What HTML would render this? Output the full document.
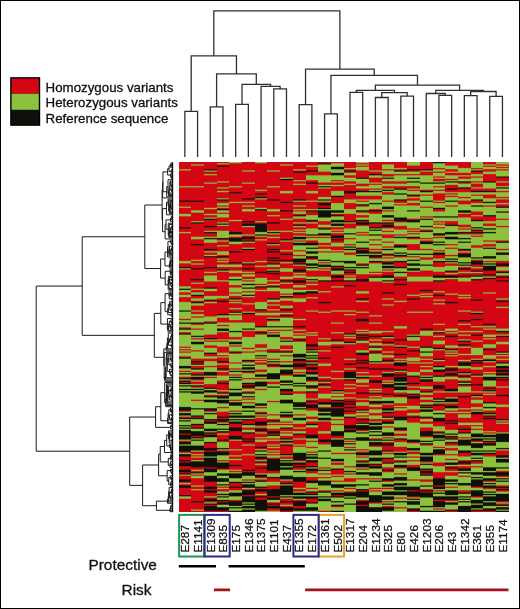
<!DOCTYPE html><html><head><meta charset="utf-8"><style>html,body{margin:0;padding:0;background:#fff;width:520px;height:609px;overflow:hidden}body{position:relative;font-family:"Liberation Sans",sans-serif}#hm div{position:absolute;top:162.30px;height:350.00px}</style></head><body>
<svg width="520" height="609" viewBox="0 0 520 609" style="position:absolute;left:0;top:0;will-change:transform">
<rect x="0.5" y="0.5" width="519" height="608" fill="#fff" stroke="#000" stroke-width="1"/>
<rect x="10.9" y="77.9" width="28.6" height="47.2" fill="#10100a" stroke="#000" stroke-width="1.4"/>
<rect x="11.6" y="78.6" width="27.2" height="15.2" fill="#d40614"/>
<rect x="11.6" y="93.8" width="27.2" height="16.0" fill="#8bc13c"/>
<g font-family="Liberation Sans, sans-serif" font-size="13.3" fill="#111" stroke="#111" stroke-width="0.3"><text x="45.6" y="92.4">Homozygous variants</text><text x="45.6" y="107.3">Heterozygous variants</text><text x="45.6" y="123.1">Reference sequence</text></g>
<path fill="none" stroke="#303030" stroke-width="1.3" d="M184.85 157.00V111.30H197.56V157.00M210.26 157.00V106.80H222.96V157.00M235.67 157.00V104.40H248.37V157.00M273.78 157.00V88.80H286.48V157.00M261.07 157.00V86.30H280.13V88.80M242.02 104.40V84.40H270.60V86.30M216.61 106.80V73.80H256.31V84.40M191.20 111.30V55.80H236.46V73.80M299.19 157.00V104.60H311.89V157.00M324.59 157.00V113.80H337.30V157.00M350.00 157.00V92.30H362.71V157.00M375.41 157.00V97.50H388.11V157.00M400.82 157.00V96.20H413.52V157.00M381.76 97.50V92.70H407.17V96.20M356.35 92.30V90.40H394.47V92.70M438.93 157.00V95.40H451.63V157.00M426.23 157.00V93.50H445.28V95.40M464.34 157.00V95.60H477.04V157.00M489.74 157.00V96.30H502.45V157.00M470.69 95.60V91.50H496.10V96.30M435.75 93.50V90.30H483.39V91.50M375.41 90.40V85.20H459.57V90.30M330.95 113.80V75.40H417.49V85.20M305.54 104.60V69.20H374.22V75.40M213.83 55.80V10.80H339.88V69.20"/>
<path fill="none" stroke="#1a1a1a" stroke-width="1.0" d="M173.00 165.32H171.77V166.52H173.00M173.00 164.11H171.55V165.92H171.77M173.00 162.90H171.13V165.02H171.55M171.13 163.96H170.66V167.73H173.00M173.00 168.94H172.06V170.14H173.00M172.06 169.54H171.47V171.35H173.00M171.47 170.45H171.18V172.56H173.00M170.66 165.85H169.05V171.50H171.18M173.00 176.18H171.98V177.39H173.00M171.98 176.78H171.36V178.59H173.00M173.00 174.97H171.00V177.69H171.36M173.00 173.77H170.69V176.33H171.00M169.05 168.67H167.66V175.05H170.69M173.00 183.42H172.30V184.63H173.00M172.30 184.02H171.91V185.83H173.00M171.91 184.93H171.44V187.04H173.00M173.00 182.21H170.87V185.99H171.44M173.00 181.01H170.25V184.10H170.87M173.00 189.46H172.23V190.66H173.00M172.23 190.06H171.58V191.87H173.00M173.00 188.25H171.06V190.96H171.58M170.25 182.55H169.89V189.61H171.06M169.89 186.08H169.28V193.08H173.00M169.28 189.58H168.93V194.28H173.00M168.93 191.93H168.49V195.49H173.00M173.00 179.80H167.99V193.71H168.49M167.99 186.75H166.70V196.70H173.00M167.66 171.86H162.95V191.73H166.70M162.95 181.79H162.61V197.90H173.00M173.00 205.14H171.86V206.35H173.00M173.00 208.77H171.94V209.97H173.00M173.00 207.56H171.31V209.37H171.94M171.86 205.75H170.92V208.46H171.31M173.00 203.94H170.70V207.11H170.92M173.00 202.73H170.43V205.52H170.70M170.43 204.13H170.05V211.18H173.00M173.00 201.52H169.89V207.65H170.05M169.89 204.59H169.73V212.39H173.00M169.73 208.49H169.26V213.59H173.00M173.00 200.32H168.68V211.04H169.26M173.00 199.11H168.07V205.68H168.68M168.07 202.39H166.48V214.80H173.00M173.00 217.21H172.29V218.42H173.00M173.00 216.01H171.80V217.82H172.29M171.80 216.91H171.22V219.63H173.00M173.00 220.83H172.00V222.04H173.00M171.22 218.27H170.49V221.44H172.00M173.00 226.87H172.30V228.08H173.00M173.00 225.66H171.91V227.47H172.30M171.91 226.57H171.29V229.28H173.00M173.00 230.49H171.94V231.70H173.00M171.94 231.09H171.54V232.90H173.00M171.54 232.00H171.16V234.11H173.00M171.29 227.93H170.41V233.05H171.16M170.41 230.49H169.85V235.32H173.00M173.00 224.46H169.31V232.90H169.85M169.31 228.68H169.07V236.52H173.00M169.07 232.60H168.91V237.73H173.00M173.00 223.25H168.26V235.17H168.91M170.49 219.85H165.96V229.21H168.26M165.96 224.53H165.12V238.94H173.00M166.48 208.60H162.57V231.73H165.12M162.61 189.85H162.10V220.17H162.57M173.00 242.56H172.30V243.77H173.00M172.30 243.16H171.87V244.97H173.00M173.00 241.35H171.22V244.07H171.87M173.00 240.14H170.35V242.71H171.22M173.00 247.39H171.82V248.59H173.00M173.00 249.80H172.00V251.01H173.00M171.82 247.99H171.33V250.40H172.00M171.33 249.20H170.77V252.21H173.00M170.77 250.71H170.22V253.42H173.00M170.22 252.06H169.68V254.63H173.00M173.00 246.18H169.45V253.35H169.68M169.45 249.76H168.90V255.83H173.00M170.35 241.43H167.93V252.80H168.90M167.93 247.11H167.60V257.04H173.00M173.00 261.87H172.19V263.08H173.00M173.00 260.66H171.92V262.47H172.19M173.00 259.46H171.61V261.57H171.92M171.61 260.51H171.03V264.28H173.00M171.03 262.40H170.60V265.49H173.00M173.00 258.25H170.28V263.94H170.60M170.28 261.10H169.86V266.70H173.00M169.86 263.90H169.36V267.90H173.00M167.60 252.08H164.99V265.90H169.36M173.00 271.52H171.78V272.73H173.00M171.78 272.13H171.33V273.94H173.00M173.00 270.32H171.10V273.03H171.33M171.10 271.67H170.57V275.14H173.00M173.00 269.11H170.07V273.41H170.57M173.00 279.97H172.11V281.18H173.00M173.00 278.77H171.52V280.58H172.11M173.00 284.80H172.26V286.01H173.00M172.26 285.40H171.60V287.21H173.00M173.00 283.59H170.94V286.31H171.60M173.00 282.39H170.41V284.95H170.94M171.52 279.67H169.76V283.67H170.41M173.00 277.56H169.47V281.67H169.76M169.47 279.61H168.99V288.42H173.00M173.00 276.35H168.37V284.02H168.99M168.37 280.18H168.19V289.63H173.00M170.07 271.26H165.20V284.91H168.19M164.99 258.99H160.60V278.08H165.20M173.00 294.46H172.04V295.66H173.00M173.00 293.25H171.63V295.06H172.04M171.63 294.15H171.12V296.87H173.00M173.00 292.04H170.44V295.51H171.12M173.00 299.28H171.99V300.49H173.00M173.00 298.08H171.66V299.89H171.99M170.44 293.78H169.28V298.98H171.66M173.00 290.83H169.04V296.38H169.28M173.00 304.11H172.02V305.32H173.00M172.02 304.71H171.40V306.52H173.00M173.00 302.90H170.76V305.62H171.40M173.00 307.73H172.27V308.94H173.00M172.27 308.33H171.61V310.14H173.00M171.61 309.24H171.22V311.35H173.00M170.76 304.26H169.92V310.30H171.22M173.00 301.70H169.46V307.28H169.92M169.46 304.49H168.34V312.56H173.00M173.00 316.18H172.28V317.39H173.00M173.00 314.97H171.71V316.78H172.28M173.00 313.77H171.09V315.88H171.71M168.34 308.52H167.74V314.82H171.09M169.04 293.61H165.08V311.67H167.74M173.00 321.01H172.08V322.21H173.00M172.08 321.61H171.50V323.42H173.00M173.00 319.80H170.91V322.52H171.50M173.00 325.83H171.77V327.04H173.00M171.77 326.44H171.50V328.25H173.00M171.50 327.34H170.75V329.46H173.00M173.00 324.63H170.30V328.40H170.75M170.91 321.16H169.35V326.51H170.30M169.35 323.84H168.70V330.66H173.00M168.70 327.25H167.93V331.87H173.00M173.00 318.59H167.42V329.56H167.93M165.08 302.64H160.80V324.08H167.42M173.00 335.49H172.30V336.70H173.00M172.30 336.09H172.16V337.90H173.00M173.00 334.28H171.54V337.00H172.16M171.54 335.64H170.92V339.11H173.00M170.92 337.38H170.55V340.32H173.00M173.00 341.52H171.90V342.73H173.00M170.55 338.85H169.53V342.13H171.90M173.00 345.14H171.96V346.35H173.00M171.96 345.75H171.65V347.56H173.00M173.00 343.94H171.24V346.65H171.65M169.53 340.49H168.52V345.30H171.24M173.00 333.08H168.29V342.89H168.52M168.29 337.98H167.41V348.77H173.00M167.41 343.37H166.89V349.97H173.00M166.89 346.67H166.27V351.18H173.00M173.00 358.42H172.01V359.63H173.00M173.00 360.83H171.98V362.04H173.00M172.01 359.02H171.19V361.44H171.98M173.00 357.21H170.61V360.23H171.19M173.00 365.66H172.30V366.87H173.00M173.00 364.46H171.89V366.27H172.30M171.89 365.36H171.41V368.08H173.00M173.00 363.25H170.80V366.72H171.41M170.61 358.72H168.89V364.98H170.80M173.00 356.01H168.29V361.85H168.89M173.00 371.70H172.13V372.90H173.00M173.00 370.49H171.64V372.30H172.13M173.00 374.11H171.97V375.32H173.00M171.97 374.71H171.59V376.52H173.00M171.64 371.39H170.30V375.62H171.59M173.00 369.28H169.55V373.51H170.30M168.29 358.93H167.32V371.39H169.55M173.00 354.80H167.01V365.16H167.32M173.00 353.59H166.49V359.98H167.01M166.49 356.79H166.15V377.73H173.00M166.15 367.26H165.50V378.94H173.00M165.50 373.10H165.19V380.14H173.00M165.19 376.62H164.87V381.35H173.00M173.00 352.39H164.21V378.99H164.87M166.27 348.93H163.80V365.69H164.21M173.00 388.59H171.90V389.80H173.00M171.90 389.20H171.53V391.01H173.00M173.00 387.39H171.08V390.10H171.53M171.08 388.74H170.68V392.21H173.00M173.00 394.63H171.82V395.83H173.00M171.82 395.23H171.42V397.04H173.00M171.42 396.14H171.25V398.25H173.00M173.00 393.42H170.87V397.19H171.25M173.00 399.46H171.90V400.66H173.00M170.87 395.31H169.65V400.06H171.90M170.68 390.48H168.89V397.68H169.65M173.00 386.18H168.57V394.08H168.89M168.57 390.13H167.94V401.87H173.00M173.00 384.97H167.53V396.00H167.94M167.53 390.49H167.18V403.08H173.00M167.18 396.78H166.96V404.28H173.00M173.00 383.77H166.43V400.53H166.96M166.43 392.15H166.08V405.49H173.00M166.08 398.82H165.75V406.70H173.00M173.00 382.56H164.70V402.76H165.75M173.00 409.11H171.94V410.32H173.00M171.94 409.71H171.58V411.52H173.00M171.58 410.62H171.25V412.73H173.00M173.00 407.90H170.51V411.67H171.25M173.00 415.14H171.97V416.35H173.00M173.00 413.94H171.58V415.75H171.97M173.00 418.77H171.81V419.97H173.00M173.00 417.56H171.44V419.37H171.81M171.44 418.46H170.97V421.18H173.00M171.58 414.84H169.58V419.82H170.97M170.51 409.79H168.79V417.33H169.58M168.79 413.56H168.10V422.39H173.00M168.10 417.97H167.68V423.59H173.00M164.70 392.66H160.80V420.78H167.68M173.00 426.01H171.83V427.21H173.00M173.00 424.80H171.35V426.61H171.83M173.00 428.42H171.97V429.63H173.00M171.35 425.71H170.60V429.02H171.97M173.00 436.87H171.95V438.08H173.00M173.00 435.66H171.27V437.47H171.95M173.00 434.46H170.92V436.57H171.27M173.00 433.25H170.72V435.51H170.92M173.00 439.28H171.89V440.49H173.00M171.89 439.89H171.64V441.70H173.00M170.72 434.38H169.70V440.79H171.64M173.00 432.04H169.44V437.59H169.70M169.44 434.81H169.20V442.90H173.00M173.00 430.83H168.57V438.86H169.20M173.00 447.73H172.30V448.94H173.00M173.00 446.52H171.85V448.33H172.30M171.85 447.43H171.20V450.14H173.00M171.20 448.79H170.82V451.35H173.00M173.00 445.32H170.53V450.07H170.82M173.00 444.11H169.41V447.69H170.53M168.57 434.85H166.69V445.90H169.41M166.69 440.37H164.52V452.56H173.00M173.00 454.97H172.00V456.18H173.00M172.00 455.58H171.48V457.39H173.00M173.00 453.77H171.04V456.48H171.48M171.04 455.12H170.84V458.59H173.00M170.84 456.86H170.42V459.80H173.00M173.00 461.01H171.96V462.21H173.00M173.00 463.42H172.16V464.63H173.00M172.16 464.02H171.52V465.83H173.00M171.96 461.61H170.54V464.93H171.52M173.00 467.04H171.75V468.25H173.00M170.54 463.27H170.07V467.64H171.75M170.42 458.33H168.28V465.46H170.07M164.52 446.47H160.25V461.89H168.28M173.00 473.08H172.02V474.28H173.00M173.00 471.87H171.69V473.68H172.02M173.00 470.66H171.02V472.77H171.69M173.00 469.46H170.54V471.72H171.02M173.00 476.70H172.11V477.90H173.00M172.11 477.30H171.60V479.11H173.00M171.60 478.21H171.36V480.32H173.00M173.00 475.49H170.72V479.26H171.36M173.00 482.73H171.94V483.94H173.00M171.94 483.33H171.74V485.14H173.00M173.00 481.52H171.09V484.24H171.74M171.09 482.88H170.62V486.35H173.00M170.72 477.38H168.76V484.62H170.62M170.54 470.59H167.17V481.00H168.76M160.25 454.18H158.60V475.79H167.17M173.00 488.77H171.78V489.97H173.00M171.78 489.37H171.50V491.18H173.00M171.50 490.27H171.34V492.39H173.00M171.34 491.33H170.86V493.59H173.00M173.00 494.80H171.89V496.01H173.00M173.00 497.21H171.92V498.42H173.00M171.89 495.40H171.09V497.82H171.92M171.09 496.61H170.67V499.63H173.00M170.86 492.46H169.62V498.12H170.67M173.00 487.56H169.13V495.29H169.62M169.13 491.42H168.67V500.83H173.00M168.67 496.13H168.26V502.04H173.00M168.26 499.09H167.44V503.25H173.00M173.00 504.46H172.03V505.66H173.00M172.03 505.06H171.36V506.87H173.00M173.00 508.08H171.76V509.28H173.00M171.36 505.96H170.61V508.68H171.76M170.61 507.32H170.36V510.49H173.00M170.36 508.91H169.98V511.70H173.00M167.44 501.17H156.40V510.30H169.98M162.10 205.01H144.80V268.54H160.60M160.80 313.36H154.30V357.31H163.80M160.80 406.72H155.60V427.36H170.60M158.60 464.99H142.60V505.73H156.40M144.80 236.77H82.20V335.33H154.30M155.60 417.04H129.70V485.36H142.60M82.20 286.05H36.20V451.20H129.70"/><path stroke="#111" stroke-width="1.2" d="M172.6 162.5V512"/>
<g font-family="Liberation Sans, sans-serif" font-size="11.8" fill="#111" stroke="#111" stroke-width="0.25"><text x="189.15" y="552.60" transform="rotate(-90 189.15 552.60)">E287</text><text x="201.86" y="552.60" transform="rotate(-90 201.86 552.60)">E1141</text><text x="214.56" y="552.60" transform="rotate(-90 214.56 552.60)">E1309</text><text x="227.26" y="552.60" transform="rotate(-90 227.26 552.60)">E835</text><text x="239.97" y="552.60" transform="rotate(-90 239.97 552.60)">E175</text><text x="252.67" y="552.60" transform="rotate(-90 252.67 552.60)">E1346</text><text x="265.38" y="552.60" transform="rotate(-90 265.38 552.60)">E1375</text><text x="278.08" y="552.60" transform="rotate(-90 278.08 552.60)">E1101</text><text x="290.78" y="552.60" transform="rotate(-90 290.78 552.60)">E437</text><text x="303.49" y="552.60" transform="rotate(-90 303.49 552.60)">E1355</text><text x="316.19" y="552.60" transform="rotate(-90 316.19 552.60)">E172</text><text x="328.89" y="552.60" transform="rotate(-90 328.89 552.60)">E1361</text><text x="341.60" y="552.60" transform="rotate(-90 341.60 552.60)">E502</text><text x="354.30" y="552.60" transform="rotate(-90 354.30 552.60)">E1317</text><text x="367.01" y="552.60" transform="rotate(-90 367.01 552.60)">E204</text><text x="379.71" y="552.60" transform="rotate(-90 379.71 552.60)">E1234</text><text x="392.41" y="552.60" transform="rotate(-90 392.41 552.60)">E325</text><text x="405.12" y="552.60" transform="rotate(-90 405.12 552.60)">E80</text><text x="417.82" y="552.60" transform="rotate(-90 417.82 552.60)">E426</text><text x="430.53" y="552.60" transform="rotate(-90 430.53 552.60)">E1203</text><text x="443.23" y="552.60" transform="rotate(-90 443.23 552.60)">E206</text><text x="455.93" y="552.60" transform="rotate(-90 455.93 552.60)">E43</text><text x="468.64" y="552.60" transform="rotate(-90 468.64 552.60)">E1342</text><text x="481.34" y="552.60" transform="rotate(-90 481.34 552.60)">E361</text><text x="494.04" y="552.60" transform="rotate(-90 494.04 552.60)">E355</text><text x="506.75" y="552.60" transform="rotate(-90 506.75 552.60)">E1174</text></g>
<rect x="179.10" y="514.9" width="25.21" height="41.6" fill="none" stroke="#1a9a55" stroke-width="2"/><rect x="318.84" y="514.9" width="25.21" height="41.6" fill="none" stroke="#e8a030" stroke-width="2"/><rect x="204.51" y="514.9" width="25.21" height="41.6" fill="none" stroke="#2a2a8c" stroke-width="2"/><rect x="293.43" y="514.9" width="25.21" height="41.6" fill="none" stroke="#2a2a8c" stroke-width="2"/>
<g font-family="Liberation Sans, sans-serif" font-size="15.4" fill="#111" stroke="#111" stroke-width="0.3"><text x="156.9" y="569.6" text-anchor="end">Protective</text><text x="151.5" y="595.3" text-anchor="end">Risk</text></g>
<path stroke="#000" stroke-width="2.6" d="M178.8 566.3H216M228.6 566.3H304.8"/>
<path stroke="#a8101e" stroke-width="2.8" d="M214 589.9H230.1M305.1 589.9H508.5"/>
</svg><div id="hm"><div style="left:178.50px;width:12.72px;background:linear-gradient(#d40614 0.00px 6.64px,#8bc13c 7.84px 7.85px,#d40614 9.05px 23.54px,#8bc13c 24.74px 24.74px,#d40614 25.94px 38.02px,#10100a 39.22px 39.23px,#d40614 40.43px 44.06px,#8bc13c 45.26px 45.26px,#d40614 46.46px 51.30px,#8bc13c 52.50px 53.71px,#d40614 54.91px 64.57px,#10100a 65.77px 65.78px,#d40614 66.98px 69.40px,#8bc13c 70.60px 70.61px,#d40614 71.81px 98.37px,#8bc13c 99.57px 100.78px,#d40614 101.98px 104.40px,#10100a 105.60px 105.61px,#8bc13c 106.81px 106.81px,#d40614 108.01px 123.71px,#8bc13c 124.91px 126.12px,#10100a 127.32px 127.33px,#8bc13c 128.53px 129.74px,#d40614 130.94px 132.16px,#8bc13c 133.36px 134.57px,#d40614 135.77px 139.40px,#8bc13c 140.60px 147.85px,#10100a 149.05px 149.06px,#8bc13c 150.26px 156.30px,#d40614 157.50px 157.50px,#8bc13c 158.70px 159.92px,#10100a 161.12px 161.12px,#8bc13c 162.32px 164.74px,#d40614 165.94px 165.95px,#10100a 167.15px 167.16px,#8bc13c 168.36px 169.57px,#d40614 170.77px 170.78px,#10100a 171.98px 171.99px,#8bc13c 173.19px 184.06px,#d40614 185.26px 185.26px,#8bc13c 186.46px 186.47px,#d40614 187.67px 187.68px,#8bc13c 188.88px 188.88px,#d40614 190.08px 190.09px,#8bc13c 191.29px 193.71px,#d40614 194.91px 194.92px,#10100a 196.12px 196.12px,#8bc13c 197.32px 203.37px,#10100a 204.57px 205.78px,#8bc13c 206.98px 208.19px,#d40614 209.39px 209.40px,#8bc13c 210.60px 210.61px,#10100a 211.81px 211.81px,#8bc13c 213.01px 214.23px,#d40614 215.43px 215.43px,#10100a 216.63px 216.64px,#8bc13c 217.84px 217.85px,#10100a 219.05px 219.06px,#d40614 220.26px 220.26px,#10100a 221.46px 221.47px,#8bc13c 222.67px 222.68px,#10100a 223.88px 223.88px,#8bc13c 225.08px 226.30px,#10100a 227.50px 227.50px,#8bc13c 228.70px 228.71px,#10100a 229.91px 229.92px,#8bc13c 231.12px 244.40px,#10100a 245.60px 248.02px,#d40614 249.22px 249.23px,#8bc13c 250.43px 250.43px,#10100a 251.63px 252.85px,#8bc13c 254.05px 254.06px,#d40614 255.26px 255.26px,#10100a 256.46px 256.47px,#8bc13c 257.67px 257.68px,#10100a 258.88px 258.88px,#8bc13c 260.08px 262.50px,#10100a 263.70px 263.71px,#8bc13c 264.91px 264.92px,#10100a 266.12px 266.12px,#8bc13c 267.32px 267.33px,#10100a 268.53px 270.95px,#d40614 272.15px 272.16px,#10100a 273.36px 276.99px,#8bc13c 278.19px 278.19px,#d40614 279.39px 279.40px,#10100a 280.60px 281.81px,#8bc13c 283.01px 283.02px,#10100a 284.22px 289.06px,#d40614 290.26px 290.26px,#8bc13c 291.46px 291.47px,#10100a 292.67px 293.88px,#d40614 295.08px 297.50px,#10100a 298.70px 298.71px,#d40614 299.91px 299.92px,#10100a 301.12px 303.54px,#d40614 304.74px 307.16px,#10100a 308.36px 309.57px,#d40614 310.77px 310.78px,#10100a 311.98px 311.99px,#8bc13c 313.19px 313.19px,#d40614 314.39px 316.81px,#10100a 318.01px 319.23px,#d40614 320.43px 320.43px,#8bc13c 321.63px 321.64px,#d40614 322.84px 322.85px,#10100a 324.05px 325.26px,#d40614 326.46px 332.50px,#10100a 333.70px 333.71px,#8bc13c 334.91px 336.12px,#d40614 337.32px 350.00px)"></div><div style="left:191.20px;width:12.72px;background:linear-gradient(#d40614 0.00px 1.81px,#8bc13c 3.01px 3.02px,#d40614 4.22px 23.54px,#8bc13c 24.74px 24.74px,#d40614 25.94px 38.02px,#10100a 39.22px 39.23px,#d40614 40.43px 47.68px,#8bc13c 48.88px 50.09px,#d40614 51.29px 58.54px,#8bc13c 59.74px 59.74px,#10100a 60.94px 60.95px,#d40614 62.15px 74.23px,#8bc13c 75.43px 76.64px,#d40614 77.84px 81.47px,#10100a 82.67px 82.68px,#d40614 83.88px 97.16px,#8bc13c 98.36px 98.37px,#d40614 99.57px 100.78px,#8bc13c 101.98px 101.99px,#d40614 103.19px 105.61px,#10100a 106.81px 106.81px,#d40614 108.01px 116.47px,#10100a 117.67px 117.68px,#d40614 118.88px 120.09px,#8bc13c 121.29px 121.30px,#d40614 122.50px 126.12px,#8bc13c 127.32px 127.33px,#d40614 128.53px 129.74px,#8bc13c 130.94px 132.16px,#10100a 133.36px 133.37px,#d40614 134.57px 135.78px,#8bc13c 136.98px 138.19px,#d40614 139.39px 139.40px,#10100a 140.60px 140.61px,#8bc13c 141.81px 143.02px,#d40614 144.22px 147.85px,#8bc13c 149.05px 149.06px,#d40614 150.26px 151.47px,#8bc13c 152.67px 153.88px,#d40614 155.08px 155.09px,#8bc13c 156.29px 159.92px,#10100a 161.12px 161.12px,#d40614 162.32px 162.33px,#8bc13c 163.53px 165.95px,#d40614 167.15px 167.16px,#8bc13c 168.36px 173.19px,#10100a 174.39px 174.40px,#8bc13c 175.60px 175.61px,#d40614 176.81px 176.81px,#8bc13c 178.01px 179.23px,#10100a 180.43px 181.64px,#8bc13c 182.84px 187.68px,#d40614 188.88px 188.88px,#8bc13c 190.08px 196.12px,#d40614 197.32px 198.54px,#10100a 199.74px 199.74px,#d40614 200.94px 200.95px,#10100a 202.15px 202.16px,#8bc13c 203.36px 203.37px,#d40614 204.57px 205.78px,#10100a 206.98px 206.99px,#8bc13c 208.19px 209.40px,#d40614 210.60px 211.81px,#10100a 213.01px 213.02px,#8bc13c 214.22px 214.23px,#10100a 215.43px 216.64px,#d40614 217.84px 217.85px,#8bc13c 219.05px 219.06px,#d40614 220.26px 221.47px,#8bc13c 222.67px 222.68px,#10100a 223.88px 223.88px,#d40614 225.08px 225.09px,#8bc13c 226.29px 226.30px,#10100a 227.50px 227.50px,#8bc13c 228.70px 228.71px,#10100a 229.91px 231.12px,#8bc13c 232.32px 237.16px,#d40614 238.36px 238.37px,#8bc13c 239.57px 245.61px,#10100a 246.81px 246.81px,#8bc13c 248.01px 252.85px,#10100a 254.05px 254.06px,#d40614 255.26px 255.26px,#10100a 256.46px 256.47px,#8bc13c 257.67px 261.30px,#10100a 262.50px 262.50px,#d40614 263.70px 264.92px,#10100a 266.12px 266.12px,#8bc13c 267.32px 268.54px,#10100a 269.74px 273.37px,#d40614 274.57px 274.57px,#10100a 275.77px 275.78px,#8bc13c 276.98px 276.99px,#10100a 278.19px 278.19px,#8bc13c 279.39px 283.02px,#10100a 284.22px 287.85px,#8bc13c 289.05px 289.06px,#d40614 290.26px 291.47px,#8bc13c 292.67px 292.68px,#d40614 293.88px 293.88px,#8bc13c 295.08px 295.09px,#d40614 296.29px 297.50px,#8bc13c 298.70px 298.71px,#10100a 299.91px 304.74px,#d40614 305.94px 307.16px,#8bc13c 308.36px 308.37px,#d40614 309.57px 309.57px,#10100a 310.77px 310.78px,#8bc13c 311.98px 311.99px,#d40614 313.19px 313.19px,#8bc13c 314.39px 315.61px,#d40614 316.81px 322.85px,#8bc13c 324.05px 324.06px,#d40614 325.26px 326.47px,#8bc13c 327.67px 327.68px,#d40614 328.88px 338.54px,#10100a 339.74px 339.74px,#d40614 340.94px 346.99px,#8bc13c 348.19px 348.19px,#d40614 349.39px 350.00px)"></div><div style="left:203.91px;width:12.72px;background:linear-gradient(#d40614 0.00px 6.64px,#10100a 7.84px 7.85px,#8bc13c 9.05px 9.06px,#d40614 10.26px 11.47px,#8bc13c 12.67px 12.68px,#d40614 13.88px 19.92px,#8bc13c 21.12px 21.12px,#d40614 22.32px 45.26px,#8bc13c 46.46px 46.47px,#d40614 47.67px 51.30px,#8bc13c 52.50px 52.50px,#d40614 53.70px 54.92px,#8bc13c 56.12px 56.12px,#10100a 57.32px 57.33px,#d40614 58.53px 63.37px,#10100a 64.57px 64.57px,#d40614 65.77px 68.19px,#8bc13c 69.39px 69.40px,#10100a 70.60px 70.61px,#d40614 71.81px 74.23px,#8bc13c 75.43px 75.43px,#10100a 76.63px 76.64px,#8bc13c 77.84px 80.26px,#d40614 81.46px 86.30px,#10100a 87.50px 87.50px,#d40614 88.70px 88.71px,#8bc13c 89.91px 89.92px,#d40614 91.12px 92.33px,#8bc13c 93.53px 93.54px,#10100a 94.74px 94.74px,#d40614 95.94px 104.40px,#10100a 105.60px 105.61px,#d40614 106.81px 109.23px,#8bc13c 110.43px 110.43px,#d40614 111.63px 112.85px,#8bc13c 114.05px 118.88px,#d40614 120.08px 124.92px,#10100a 126.12px 126.12px,#8bc13c 127.32px 128.54px,#d40614 129.74px 133.37px,#8bc13c 134.57px 136.99px,#10100a 138.19px 138.19px,#d40614 139.39px 139.40px,#8bc13c 140.60px 140.61px,#d40614 141.81px 153.88px,#8bc13c 155.08px 158.71px,#d40614 159.91px 159.92px,#10100a 161.12px 161.12px,#8bc13c 162.32px 171.99px,#d40614 173.19px 175.61px,#10100a 176.81px 176.81px,#8bc13c 178.01px 178.02px,#d40614 179.22px 179.23px,#8bc13c 180.43px 182.85px,#d40614 184.05px 185.26px,#8bc13c 186.46px 190.09px,#10100a 191.29px 191.30px,#d40614 192.50px 193.71px,#8bc13c 194.91px 196.12px,#d40614 197.32px 198.54px,#8bc13c 199.74px 203.37px,#d40614 204.57px 204.57px,#8bc13c 205.77px 209.40px,#10100a 210.60px 213.02px,#8bc13c 214.22px 214.23px,#d40614 215.43px 215.43px,#8bc13c 216.63px 221.47px,#d40614 222.67px 225.09px,#10100a 226.29px 226.30px,#8bc13c 227.50px 227.50px,#10100a 228.70px 229.92px,#8bc13c 231.12px 232.33px,#d40614 233.53px 233.54px,#10100a 234.74px 234.74px,#8bc13c 235.94px 237.16px,#10100a 238.36px 239.57px,#8bc13c 240.77px 245.61px,#10100a 246.81px 248.02px,#d40614 249.22px 249.23px,#8bc13c 250.43px 250.43px,#10100a 251.63px 251.64px,#8bc13c 252.84px 256.47px,#10100a 257.67px 257.68px,#d40614 258.88px 258.88px,#10100a 260.08px 261.30px,#8bc13c 262.50px 266.12px,#10100a 267.32px 268.54px,#8bc13c 269.74px 269.74px,#10100a 270.94px 270.95px,#d40614 272.15px 272.16px,#10100a 273.36px 274.57px,#8bc13c 275.77px 279.40px,#10100a 280.60px 280.61px,#d40614 281.81px 285.43px,#10100a 286.63px 287.85px,#d40614 289.05px 289.06px,#10100a 290.26px 293.88px,#8bc13c 295.08px 295.09px,#10100a 296.29px 304.74px,#d40614 305.94px 305.95px,#10100a 307.15px 309.57px,#8bc13c 310.77px 313.19px,#10100a 314.39px 319.23px,#d40614 320.43px 324.06px,#10100a 325.26px 326.47px,#d40614 327.67px 327.68px,#10100a 328.88px 330.09px,#d40614 331.29px 333.71px,#8bc13c 334.91px 334.92px,#d40614 336.12px 336.12px,#10100a 337.32px 338.54px,#d40614 339.74px 339.74px,#8bc13c 340.94px 340.95px,#10100a 342.15px 342.16px,#d40614 343.36px 343.37px,#10100a 344.57px 348.19px,#d40614 349.39px 350.00px)"></div><div style="left:216.61px;width:12.72px;background:linear-gradient(#d40614 0.00px 0.61px,#8bc13c 1.81px 1.81px,#d40614 3.01px 3.02px,#10100a 4.22px 4.23px,#d40614 5.43px 18.71px,#8bc13c 19.91px 19.92px,#d40614 21.12px 24.74px,#8bc13c 25.94px 25.95px,#d40614 27.15px 28.37px,#8bc13c 29.57px 29.57px,#d40614 30.77px 35.61px,#8bc13c 36.81px 36.81px,#10100a 38.01px 38.02px,#d40614 39.22px 40.43px,#8bc13c 41.63px 42.85px,#d40614 44.05px 44.06px,#8bc13c 45.26px 45.26px,#d40614 46.46px 46.47px,#10100a 47.67px 47.68px,#8bc13c 48.88px 50.09px,#d40614 51.29px 51.30px,#8bc13c 52.50px 54.92px,#d40614 56.12px 59.74px,#8bc13c 60.94px 60.95px,#10100a 62.15px 62.16px,#8bc13c 63.36px 63.37px,#d40614 64.57px 68.19px,#8bc13c 69.39px 75.43px,#10100a 76.63px 76.64px,#d40614 77.84px 77.85px,#8bc13c 79.05px 79.06px,#d40614 80.26px 82.68px,#8bc13c 83.88px 83.88px,#d40614 85.08px 88.71px,#8bc13c 89.91px 92.33px,#d40614 93.53px 93.54px,#10100a 94.74px 94.74px,#d40614 95.94px 95.95px,#8bc13c 97.15px 97.16px,#d40614 98.36px 98.37px,#8bc13c 99.57px 99.57px,#d40614 100.77px 101.99px,#8bc13c 103.19px 104.40px,#d40614 105.60px 106.81px,#10100a 108.01px 108.02px,#8bc13c 109.22px 109.23px,#d40614 110.43px 117.68px,#8bc13c 118.88px 118.88px,#d40614 120.08px 133.37px,#8bc13c 134.57px 135.78px,#d40614 136.98px 138.19px,#10100a 139.39px 139.40px,#d40614 140.60px 151.47px,#10100a 152.67px 152.68px,#8bc13c 153.88px 155.09px,#d40614 156.29px 159.92px,#8bc13c 161.12px 162.33px,#d40614 163.53px 163.54px,#8bc13c 164.74px 165.95px,#10100a 167.15px 168.37px,#8bc13c 169.57px 169.57px,#d40614 170.77px 176.81px,#8bc13c 178.01px 178.02px,#d40614 179.22px 179.23px,#8bc13c 180.43px 184.06px,#d40614 185.26px 190.09px,#8bc13c 191.29px 192.50px,#d40614 193.70px 193.71px,#8bc13c 194.91px 194.92px,#d40614 196.12px 198.54px,#10100a 199.74px 199.74px,#d40614 200.94px 200.95px,#8bc13c 202.15px 202.16px,#d40614 203.36px 205.78px,#10100a 206.98px 206.99px,#d40614 208.19px 208.19px,#8bc13c 209.39px 209.40px,#d40614 210.60px 213.02px,#8bc13c 214.22px 217.85px,#d40614 219.05px 220.26px,#10100a 221.46px 221.47px,#d40614 222.67px 227.50px,#8bc13c 228.70px 228.71px,#d40614 229.91px 229.92px,#10100a 231.12px 231.12px,#8bc13c 232.32px 232.33px,#d40614 233.53px 233.54px,#10100a 234.74px 235.95px,#8bc13c 237.15px 237.16px,#10100a 238.36px 240.78px,#8bc13c 241.98px 244.40px,#d40614 245.60px 245.61px,#8bc13c 246.81px 249.23px,#d40614 250.43px 254.06px,#10100a 255.26px 255.26px,#d40614 256.46px 256.47px,#10100a 257.67px 258.88px,#d40614 260.08px 260.09px,#8bc13c 261.29px 261.30px,#10100a 262.50px 262.50px,#8bc13c 263.70px 266.12px,#10100a 267.32px 267.33px,#8bc13c 268.53px 268.54px,#10100a 269.74px 269.74px,#d40614 270.94px 270.95px,#8bc13c 272.15px 272.16px,#d40614 273.36px 276.99px,#10100a 278.19px 278.19px,#d40614 279.39px 279.40px,#8bc13c 280.60px 285.43px,#10100a 286.63px 286.64px,#8bc13c 287.84px 287.85px,#d40614 289.05px 289.06px,#10100a 290.26px 292.68px,#8bc13c 293.88px 297.50px,#d40614 298.70px 298.71px,#8bc13c 299.91px 299.92px,#10100a 301.12px 305.95px,#d40614 307.15px 307.16px,#8bc13c 308.36px 310.78px,#10100a 311.98px 313.19px,#8bc13c 314.39px 315.61px,#10100a 316.81px 319.23px,#8bc13c 320.43px 321.64px,#10100a 322.84px 322.85px,#8bc13c 324.05px 324.06px,#d40614 325.26px 325.26px,#8bc13c 326.46px 326.47px,#d40614 327.67px 328.88px,#8bc13c 330.08px 331.30px,#10100a 332.50px 332.50px,#8bc13c 333.70px 333.71px,#10100a 334.91px 334.92px,#8bc13c 336.12px 337.33px,#10100a 338.53px 338.54px,#d40614 339.74px 339.74px,#10100a 340.94px 342.16px,#8bc13c 343.36px 344.57px,#10100a 345.77px 348.19px,#d40614 349.39px 350.00px)"></div><div style="left:229.32px;width:12.72px;background:linear-gradient(#8bc13c 0.00px 0.61px,#d40614 1.81px 23.54px,#8bc13c 24.74px 24.74px,#d40614 25.94px 29.57px,#10100a 30.77px 30.78px,#d40614 31.98px 39.23px,#8bc13c 40.43px 40.43px,#d40614 41.63px 57.33px,#8bc13c 58.53px 58.54px,#d40614 59.74px 69.40px,#10100a 70.60px 71.81px,#8bc13c 73.01px 74.23px,#d40614 75.43px 75.43px,#10100a 76.63px 79.06px,#8bc13c 80.26px 81.47px,#d40614 82.67px 88.71px,#10100a 89.91px 89.92px,#d40614 91.12px 99.57px,#10100a 100.77px 100.78px,#d40614 101.98px 101.99px,#8bc13c 103.19px 104.40px,#d40614 105.60px 108.02px,#8bc13c 109.22px 110.43px,#d40614 111.63px 114.06px,#8bc13c 115.26px 116.47px,#10100a 117.67px 117.68px,#8bc13c 118.88px 122.50px,#d40614 123.70px 124.92px,#8bc13c 126.12px 129.74px,#d40614 130.94px 130.95px,#8bc13c 132.15px 133.37px,#d40614 134.57px 135.78px,#10100a 136.98px 136.99px,#8bc13c 138.19px 138.19px,#d40614 139.39px 139.40px,#8bc13c 140.60px 140.61px,#d40614 141.81px 145.43px,#8bc13c 146.63px 146.64px,#d40614 147.84px 149.06px,#10100a 150.26px 150.26px,#8bc13c 151.46px 151.47px,#d40614 152.67px 152.68px,#8bc13c 153.88px 157.50px,#d40614 158.70px 159.92px,#8bc13c 161.12px 168.37px,#10100a 169.57px 169.57px,#8bc13c 170.77px 174.40px,#d40614 175.60px 176.81px,#8bc13c 178.01px 179.23px,#10100a 180.43px 181.64px,#8bc13c 182.84px 182.85px,#d40614 184.05px 184.06px,#8bc13c 185.26px 188.88px,#10100a 190.08px 190.09px,#d40614 191.29px 191.30px,#8bc13c 192.50px 199.74px,#d40614 200.94px 200.95px,#8bc13c 202.15px 205.78px,#d40614 206.98px 206.99px,#8bc13c 208.19px 208.19px,#10100a 209.39px 209.40px,#8bc13c 210.60px 211.81px,#d40614 213.01px 213.02px,#8bc13c 214.22px 214.23px,#10100a 215.43px 215.43px,#8bc13c 216.63px 216.64px,#10100a 217.84px 217.85px,#8bc13c 219.05px 226.30px,#10100a 227.50px 227.50px,#8bc13c 228.70px 229.92px,#10100a 231.12px 233.54px,#8bc13c 234.74px 237.16px,#d40614 238.36px 238.37px,#8bc13c 239.57px 239.57px,#10100a 240.77px 243.19px,#8bc13c 244.39px 248.02px,#d40614 249.22px 249.23px,#8bc13c 250.43px 250.43px,#10100a 251.63px 251.64px,#8bc13c 252.84px 252.85px,#10100a 254.05px 255.26px,#8bc13c 256.46px 256.47px,#10100a 257.67px 257.68px,#8bc13c 258.88px 258.88px,#10100a 260.08px 261.30px,#d40614 262.50px 264.92px,#10100a 266.12px 268.54px,#d40614 269.74px 273.37px,#10100a 274.57px 276.99px,#8bc13c 278.19px 278.19px,#d40614 279.39px 286.64px,#8bc13c 287.84px 287.85px,#d40614 289.05px 292.68px,#8bc13c 293.88px 293.88px,#d40614 295.08px 296.30px,#8bc13c 297.50px 297.50px,#d40614 298.70px 302.33px,#10100a 303.53px 303.54px,#d40614 304.74px 307.16px,#8bc13c 308.36px 308.37px,#d40614 309.57px 309.57px,#8bc13c 310.77px 310.78px,#10100a 311.98px 315.61px,#8bc13c 316.81px 319.23px,#10100a 320.43px 320.43px,#d40614 321.63px 324.06px,#10100a 325.26px 325.26px,#d40614 326.46px 327.68px,#8bc13c 328.88px 330.09px,#10100a 331.29px 333.71px,#8bc13c 334.91px 337.33px,#d40614 338.53px 338.54px,#10100a 339.74px 343.37px,#8bc13c 344.57px 344.57px,#10100a 345.77px 345.78px,#8bc13c 346.98px 348.19px,#10100a 349.39px 350.00px)"></div><div style="left:242.02px;width:12.72px;background:linear-gradient(#d40614 0.00px 7.85px,#8bc13c 9.05px 9.06px,#d40614 10.26px 19.92px,#8bc13c 21.12px 21.12px,#d40614 22.32px 35.61px,#10100a 36.81px 36.81px,#d40614 38.01px 39.23px,#8bc13c 40.43px 40.43px,#d40614 41.63px 42.85px,#8bc13c 44.05px 44.06px,#d40614 45.26px 46.47px,#8bc13c 47.67px 48.88px,#d40614 50.08px 58.54px,#10100a 59.74px 59.74px,#d40614 60.94px 60.95px,#10100a 62.15px 63.37px,#8bc13c 64.57px 64.57px,#d40614 65.77px 71.81px,#8bc13c 73.01px 73.02px,#d40614 74.22px 74.23px,#10100a 75.43px 76.64px,#d40614 77.84px 77.85px,#10100a 79.05px 79.06px,#8bc13c 80.26px 80.26px,#d40614 81.46px 85.09px,#8bc13c 86.29px 86.30px,#10100a 87.50px 87.50px,#d40614 88.70px 99.57px,#8bc13c 100.77px 100.78px,#10100a 101.98px 101.99px,#d40614 103.19px 105.61px,#10100a 106.81px 106.81px,#d40614 108.01px 109.23px,#8bc13c 110.43px 110.43px,#d40614 111.63px 111.64px,#8bc13c 112.84px 114.06px,#d40614 115.26px 116.47px,#8bc13c 117.67px 117.68px,#d40614 118.88px 118.88px,#8bc13c 120.08px 121.30px,#10100a 122.50px 122.50px,#8bc13c 123.70px 124.92px,#10100a 126.12px 126.12px,#8bc13c 127.32px 128.54px,#d40614 129.74px 129.74px,#8bc13c 130.94px 132.16px,#10100a 133.36px 133.37px,#8bc13c 134.57px 134.57px,#d40614 135.77px 140.61px,#8bc13c 141.81px 141.81px,#d40614 143.01px 149.06px,#8bc13c 150.26px 150.26px,#10100a 151.46px 151.47px,#d40614 152.67px 159.92px,#8bc13c 161.12px 165.95px,#10100a 167.15px 167.16px,#8bc13c 168.36px 168.37px,#d40614 169.57px 174.40px,#8bc13c 175.60px 185.26px,#d40614 186.46px 186.47px,#8bc13c 187.67px 188.88px,#d40614 190.08px 190.09px,#8bc13c 191.29px 197.33px,#10100a 198.53px 198.54px,#d40614 199.74px 199.74px,#8bc13c 200.94px 202.16px,#10100a 203.36px 203.37px,#8bc13c 204.57px 204.57px,#10100a 205.77px 206.99px,#8bc13c 208.19px 208.19px,#10100a 209.39px 209.40px,#d40614 210.60px 210.61px,#8bc13c 211.81px 215.43px,#d40614 216.63px 216.64px,#8bc13c 217.84px 220.26px,#10100a 221.46px 221.47px,#d40614 222.67px 222.68px,#10100a 223.88px 225.09px,#d40614 226.29px 226.30px,#8bc13c 227.50px 228.71px,#d40614 229.91px 229.92px,#10100a 231.12px 231.12px,#8bc13c 232.32px 233.54px,#10100a 234.74px 234.74px,#8bc13c 235.94px 235.95px,#d40614 237.15px 237.16px,#8bc13c 238.36px 239.57px,#d40614 240.77px 240.78px,#8bc13c 241.98px 243.19px,#10100a 244.39px 245.61px,#8bc13c 246.81px 248.02px,#10100a 249.22px 249.23px,#8bc13c 250.43px 252.85px,#10100a 254.05px 255.26px,#8bc13c 256.46px 256.47px,#10100a 257.67px 257.68px,#d40614 258.88px 261.30px,#10100a 262.50px 262.50px,#8bc13c 263.70px 264.92px,#d40614 266.12px 267.33px,#8bc13c 268.53px 269.74px,#10100a 270.94px 270.95px,#d40614 272.15px 275.78px,#10100a 276.98px 276.99px,#d40614 278.19px 278.19px,#10100a 279.39px 279.40px,#d40614 280.60px 281.81px,#8bc13c 283.01px 283.02px,#d40614 284.22px 291.47px,#8bc13c 292.67px 292.68px,#d40614 293.88px 307.16px,#10100a 308.36px 308.37px,#d40614 309.57px 309.57px,#10100a 310.77px 313.19px,#8bc13c 314.39px 316.81px,#d40614 318.01px 318.02px,#8bc13c 319.22px 319.23px,#10100a 320.43px 320.43px,#8bc13c 321.63px 321.64px,#10100a 322.84px 325.26px,#8bc13c 326.46px 326.47px,#d40614 327.67px 327.68px,#10100a 328.88px 332.50px,#d40614 333.70px 333.71px,#10100a 334.91px 339.74px,#8bc13c 340.94px 340.95px,#10100a 342.15px 342.16px,#8bc13c 343.36px 343.37px,#10100a 344.57px 345.78px,#8bc13c 346.98px 346.99px,#10100a 348.19px 350.00px)"></div><div style="left:254.72px;width:12.72px;background:linear-gradient(#8bc13c 0.00px 0.61px,#d40614 1.81px 27.16px,#8bc13c 28.36px 28.37px,#d40614 29.57px 30.78px,#10100a 31.98px 31.99px,#d40614 33.19px 34.40px,#10100a 35.60px 35.61px,#8bc13c 36.81px 36.81px,#d40614 38.01px 45.26px,#8bc13c 46.46px 46.47px,#10100a 47.67px 47.68px,#d40614 48.88px 58.54px,#8bc13c 59.74px 59.74px,#d40614 60.94px 60.95px,#10100a 62.15px 69.40px,#8bc13c 70.60px 71.81px,#10100a 73.01px 73.02px,#8bc13c 74.22px 74.23px,#d40614 75.43px 76.64px,#8bc13c 77.84px 77.85px,#d40614 79.05px 98.37px,#8bc13c 99.57px 99.57px,#d40614 100.77px 103.19px,#8bc13c 104.39px 104.40px,#d40614 105.60px 109.23px,#10100a 110.43px 110.43px,#d40614 111.63px 115.26px,#8bc13c 116.46px 121.30px,#d40614 122.50px 122.50px,#8bc13c 123.70px 123.71px,#10100a 124.91px 124.92px,#d40614 126.12px 127.33px,#8bc13c 128.53px 128.54px,#d40614 129.74px 139.40px,#8bc13c 140.60px 146.64px,#10100a 147.84px 147.85px,#d40614 149.05px 150.26px,#8bc13c 151.46px 152.68px,#d40614 153.88px 163.54px,#10100a 164.74px 164.74px,#8bc13c 165.94px 168.37px,#d40614 169.57px 169.57px,#10100a 170.77px 170.78px,#d40614 171.98px 171.99px,#8bc13c 173.19px 181.64px,#d40614 182.84px 185.26px,#8bc13c 186.46px 187.68px,#d40614 188.88px 188.88px,#8bc13c 190.08px 192.50px,#10100a 193.70px 193.71px,#8bc13c 194.91px 194.92px,#d40614 196.12px 196.12px,#8bc13c 197.32px 197.33px,#d40614 198.53px 198.54px,#8bc13c 199.74px 199.74px,#d40614 200.94px 202.16px,#8bc13c 203.36px 206.99px,#d40614 208.19px 209.40px,#8bc13c 210.60px 211.81px,#10100a 213.01px 214.23px,#8bc13c 215.43px 215.43px,#d40614 216.63px 216.64px,#8bc13c 217.84px 219.06px,#10100a 220.26px 223.88px,#8bc13c 225.08px 226.30px,#d40614 227.50px 227.50px,#8bc13c 228.70px 240.78px,#10100a 241.98px 243.19px,#8bc13c 244.39px 244.40px,#d40614 245.60px 245.61px,#8bc13c 246.81px 249.23px,#d40614 250.43px 250.43px,#10100a 251.63px 251.64px,#8bc13c 252.84px 252.85px,#d40614 254.05px 254.06px,#8bc13c 255.26px 255.26px,#d40614 256.46px 258.88px,#10100a 260.08px 262.50px,#d40614 263.70px 263.71px,#8bc13c 264.91px 264.92px,#d40614 266.12px 266.12px,#10100a 267.32px 268.54px,#d40614 269.74px 269.74px,#8bc13c 270.94px 270.95px,#d40614 272.15px 274.57px,#8bc13c 275.77px 275.78px,#d40614 276.98px 276.99px,#8bc13c 278.19px 279.40px,#d40614 280.60px 284.23px,#10100a 285.43px 285.43px,#d40614 286.63px 286.64px,#8bc13c 287.84px 287.85px,#10100a 289.05px 289.06px,#8bc13c 290.26px 291.47px,#10100a 292.67px 292.68px,#8bc13c 293.88px 293.88px,#10100a 295.08px 296.30px,#d40614 297.50px 297.50px,#8bc13c 298.70px 298.71px,#10100a 299.91px 299.92px,#d40614 301.12px 301.12px,#8bc13c 302.32px 302.33px,#d40614 303.53px 304.74px,#10100a 305.94px 305.95px,#d40614 307.15px 310.78px,#8bc13c 311.98px 311.99px,#10100a 313.19px 314.40px,#d40614 315.60px 315.61px,#8bc13c 316.81px 316.81px,#d40614 318.01px 318.02px,#10100a 319.22px 319.23px,#8bc13c 320.43px 324.06px,#10100a 325.26px 325.26px,#d40614 326.46px 326.47px,#10100a 327.67px 328.88px,#d40614 330.08px 331.30px,#8bc13c 332.50px 332.50px,#d40614 333.70px 333.71px,#10100a 334.91px 334.92px,#d40614 336.12px 337.33px,#10100a 338.53px 348.19px,#8bc13c 349.39px 350.00px)"></div><div style="left:267.43px;width:12.72px;background:linear-gradient(#d40614 0.00px 7.85px,#8bc13c 9.05px 9.06px,#d40614 10.26px 23.54px,#8bc13c 24.74px 24.74px,#d40614 25.94px 36.81px,#10100a 38.01px 38.02px,#d40614 39.22px 46.47px,#8bc13c 47.67px 48.88px,#d40614 50.08px 52.50px,#8bc13c 53.70px 53.71px,#d40614 54.91px 59.74px,#10100a 60.94px 60.95px,#d40614 62.15px 68.19px,#8bc13c 69.39px 69.40px,#10100a 70.60px 70.61px,#8bc13c 71.81px 71.81px,#d40614 73.01px 74.23px,#8bc13c 75.43px 75.43px,#d40614 76.63px 80.26px,#10100a 81.46px 81.47px,#8bc13c 82.67px 82.68px,#d40614 83.88px 86.30px,#10100a 87.50px 87.50px,#d40614 88.70px 88.71px,#10100a 89.91px 89.92px,#d40614 91.12px 94.74px,#10100a 95.94px 95.95px,#d40614 97.15px 97.16px,#10100a 98.36px 98.37px,#d40614 99.57px 100.78px,#10100a 101.98px 101.99px,#8bc13c 103.19px 104.40px,#d40614 105.60px 106.81px,#8bc13c 108.01px 108.02px,#10100a 109.22px 109.23px,#d40614 110.43px 110.43px,#10100a 111.63px 111.64px,#d40614 112.84px 117.68px,#8bc13c 118.88px 118.88px,#d40614 120.08px 121.30px,#8bc13c 122.50px 122.50px,#d40614 123.70px 123.71px,#10100a 124.91px 124.92px,#8bc13c 126.12px 128.54px,#d40614 129.74px 135.78px,#10100a 136.98px 136.99px,#8bc13c 138.19px 139.40px,#d40614 140.60px 141.81px,#8bc13c 143.01px 143.02px,#d40614 144.22px 146.64px,#8bc13c 147.84px 147.85px,#d40614 149.05px 150.26px,#8bc13c 151.46px 152.68px,#d40614 153.88px 155.09px,#8bc13c 156.29px 156.30px,#10100a 157.50px 157.50px,#d40614 158.70px 158.71px,#8bc13c 159.91px 163.54px,#10100a 164.74px 164.74px,#8bc13c 165.94px 167.16px,#d40614 168.36px 168.37px,#8bc13c 169.57px 169.57px,#d40614 170.77px 170.78px,#8bc13c 171.98px 171.99px,#10100a 173.19px 174.40px,#8bc13c 175.60px 186.47px,#d40614 187.67px 188.88px,#10100a 190.08px 190.09px,#8bc13c 191.29px 196.12px,#d40614 197.32px 197.33px,#8bc13c 198.53px 198.54px,#10100a 199.74px 199.74px,#8bc13c 200.94px 200.95px,#d40614 202.15px 202.16px,#10100a 203.36px 203.37px,#d40614 204.57px 204.57px,#8bc13c 205.77px 210.61px,#10100a 211.81px 216.64px,#8bc13c 217.84px 219.06px,#d40614 220.26px 221.47px,#8bc13c 222.67px 223.88px,#10100a 225.08px 225.09px,#8bc13c 226.29px 238.37px,#d40614 239.57px 239.57px,#8bc13c 240.77px 251.64px,#d40614 252.84px 252.85px,#8bc13c 254.05px 256.47px,#d40614 257.67px 257.68px,#10100a 258.88px 258.88px,#d40614 260.08px 260.09px,#8bc13c 261.29px 261.30px,#d40614 262.50px 262.50px,#8bc13c 263.70px 266.12px,#d40614 267.32px 268.54px,#10100a 269.74px 270.95px,#d40614 272.15px 272.16px,#10100a 273.36px 273.37px,#8bc13c 274.57px 275.78px,#d40614 276.98px 276.99px,#8bc13c 278.19px 278.19px,#d40614 279.39px 281.81px,#8bc13c 283.01px 283.02px,#d40614 284.22px 284.23px,#8bc13c 285.43px 285.43px,#d40614 286.63px 287.85px,#8bc13c 289.05px 289.06px,#d40614 290.26px 290.26px,#8bc13c 291.46px 291.47px,#d40614 292.67px 292.68px,#8bc13c 293.88px 295.09px,#d40614 296.29px 296.30px,#10100a 297.50px 308.37px,#d40614 309.57px 310.78px,#8bc13c 311.98px 314.40px,#10100a 315.60px 315.61px,#d40614 316.81px 319.23px,#8bc13c 320.43px 322.85px,#d40614 324.05px 326.47px,#10100a 327.67px 333.71px,#d40614 334.91px 334.92px,#10100a 336.12px 337.33px,#8bc13c 338.53px 339.74px,#d40614 340.94px 340.95px,#10100a 342.15px 342.16px,#d40614 343.36px 343.37px,#10100a 344.57px 345.78px,#d40614 346.98px 348.19px,#8bc13c 349.39px 350.00px)"></div><div style="left:280.13px;width:12.72px;background:linear-gradient(#d40614 0.00px 1.81px,#8bc13c 3.01px 3.02px,#d40614 4.22px 15.09px,#8bc13c 16.29px 16.30px,#10100a 17.50px 17.50px,#d40614 18.70px 28.37px,#8bc13c 29.57px 30.78px,#d40614 31.98px 39.23px,#10100a 40.43px 40.43px,#d40614 41.63px 47.68px,#10100a 48.88px 48.88px,#d40614 50.08px 56.12px,#8bc13c 57.32px 57.33px,#d40614 58.53px 68.19px,#8bc13c 69.39px 69.40px,#d40614 70.60px 76.64px,#10100a 77.84px 77.85px,#8bc13c 79.05px 79.06px,#d40614 80.26px 87.50px,#8bc13c 88.70px 88.71px,#d40614 89.91px 91.12px,#10100a 92.32px 92.33px,#d40614 93.53px 97.16px,#10100a 98.36px 98.37px,#d40614 99.57px 99.57px,#8bc13c 100.77px 100.78px,#d40614 101.98px 105.61px,#8bc13c 106.81px 109.23px,#d40614 110.43px 114.06px,#8bc13c 115.26px 116.47px,#d40614 117.67px 117.68px,#10100a 118.88px 118.88px,#d40614 120.08px 120.09px,#8bc13c 121.29px 121.30px,#d40614 122.50px 126.12px,#8bc13c 127.32px 130.95px,#d40614 132.15px 132.16px,#8bc13c 133.36px 133.37px,#10100a 134.57px 134.57px,#d40614 135.77px 135.78px,#8bc13c 136.98px 138.19px,#d40614 139.39px 143.02px,#8bc13c 144.22px 145.43px,#d40614 146.63px 146.64px,#10100a 147.84px 147.85px,#d40614 149.05px 150.26px,#8bc13c 151.46px 151.47px,#d40614 152.67px 152.68px,#10100a 153.88px 153.88px,#d40614 155.08px 155.09px,#8bc13c 156.29px 163.54px,#10100a 164.74px 164.74px,#8bc13c 165.94px 167.16px,#d40614 168.36px 168.37px,#8bc13c 169.57px 174.40px,#d40614 175.60px 176.81px,#8bc13c 178.01px 178.02px,#10100a 179.22px 179.23px,#8bc13c 180.43px 182.85px,#d40614 184.05px 186.47px,#8bc13c 187.67px 187.68px,#d40614 188.88px 188.88px,#10100a 190.08px 190.09px,#8bc13c 191.29px 192.50px,#d40614 193.70px 193.71px,#8bc13c 194.91px 198.54px,#d40614 199.74px 199.74px,#8bc13c 200.94px 202.16px,#10100a 203.36px 204.57px,#8bc13c 205.77px 206.99px,#10100a 208.19px 211.81px,#d40614 213.01px 213.02px,#8bc13c 214.22px 217.85px,#10100a 219.05px 220.26px,#8bc13c 221.46px 221.47px,#10100a 222.67px 222.68px,#8bc13c 223.88px 226.30px,#10100a 227.50px 228.71px,#d40614 229.91px 231.12px,#10100a 232.32px 232.33px,#8bc13c 233.53px 237.16px,#10100a 238.36px 240.78px,#8bc13c 241.98px 249.23px,#10100a 250.43px 250.43px,#8bc13c 251.63px 251.64px,#10100a 252.84px 254.06px,#d40614 255.26px 255.26px,#8bc13c 256.46px 258.88px,#d40614 260.08px 260.09px,#8bc13c 261.29px 261.30px,#d40614 262.50px 262.50px,#8bc13c 263.70px 264.92px,#10100a 266.12px 266.12px,#d40614 267.32px 268.54px,#8bc13c 269.74px 269.74px,#d40614 270.94px 270.95px,#8bc13c 272.15px 273.37px,#d40614 274.57px 275.78px,#10100a 276.98px 276.99px,#8bc13c 278.19px 278.19px,#10100a 279.39px 279.40px,#d40614 280.60px 280.61px,#8bc13c 281.81px 281.81px,#10100a 283.01px 283.02px,#d40614 284.22px 291.47px,#10100a 292.67px 292.68px,#8bc13c 293.88px 293.88px,#d40614 295.08px 296.30px,#8bc13c 297.50px 297.50px,#10100a 298.70px 298.71px,#8bc13c 299.91px 299.92px,#10100a 301.12px 303.54px,#8bc13c 304.74px 304.74px,#10100a 305.94px 307.16px,#8bc13c 308.36px 313.19px,#10100a 314.39px 316.81px,#8bc13c 318.01px 318.02px,#d40614 319.22px 320.43px,#10100a 321.63px 321.64px,#8bc13c 322.84px 322.85px,#10100a 324.05px 332.50px,#8bc13c 333.70px 333.71px,#10100a 334.91px 334.92px,#8bc13c 336.12px 336.12px,#d40614 337.32px 338.54px,#10100a 339.74px 339.74px,#d40614 340.94px 342.16px,#8bc13c 343.36px 343.37px,#d40614 344.57px 344.57px,#10100a 345.77px 348.19px,#d40614 349.39px 350.00px)"></div><div style="left:292.83px;width:12.72px;background:linear-gradient(#d40614 0.00px 6.64px,#8bc13c 7.84px 7.85px,#d40614 9.05px 9.06px,#10100a 10.26px 10.26px,#d40614 11.46px 17.50px,#8bc13c 18.70px 18.71px,#d40614 19.91px 21.12px,#8bc13c 22.32px 22.33px,#d40614 23.53px 36.81px,#10100a 38.01px 38.02px,#8bc13c 39.22px 39.23px,#d40614 40.43px 42.85px,#8bc13c 44.05px 44.06px,#d40614 45.26px 46.47px,#8bc13c 47.67px 47.68px,#d40614 48.88px 48.88px,#8bc13c 50.08px 51.30px,#d40614 52.50px 52.50px,#10100a 53.70px 53.71px,#8bc13c 54.91px 56.12px,#d40614 57.32px 59.74px,#8bc13c 60.94px 60.95px,#d40614 62.15px 62.16px,#10100a 63.36px 63.37px,#8bc13c 64.57px 64.57px,#d40614 65.77px 66.99px,#8bc13c 68.19px 68.19px,#d40614 69.39px 69.40px,#8bc13c 70.60px 70.61px,#d40614 71.81px 73.02px,#8bc13c 74.22px 74.23px,#10100a 75.43px 76.64px,#8bc13c 77.84px 77.85px,#d40614 79.05px 79.06px,#8bc13c 80.26px 80.26px,#10100a 81.46px 82.68px,#8bc13c 83.88px 87.50px,#d40614 88.70px 88.71px,#8bc13c 89.91px 92.33px,#d40614 93.53px 93.54px,#8bc13c 94.74px 95.95px,#10100a 97.15px 99.57px,#d40614 100.77px 100.78px,#10100a 101.98px 101.99px,#8bc13c 103.19px 103.19px,#d40614 104.39px 106.81px,#10100a 108.01px 109.23px,#d40614 110.43px 110.43px,#8bc13c 111.63px 111.64px,#d40614 112.84px 112.85px,#8bc13c 114.05px 115.26px,#d40614 116.46px 117.68px,#10100a 118.88px 120.09px,#d40614 121.29px 122.50px,#8bc13c 123.70px 124.92px,#d40614 126.12px 127.33px,#8bc13c 128.53px 129.74px,#10100a 130.94px 132.16px,#d40614 133.36px 135.78px,#8bc13c 136.98px 139.40px,#d40614 140.60px 156.30px,#8bc13c 157.50px 157.50px,#d40614 158.70px 163.54px,#10100a 164.74px 164.74px,#d40614 165.94px 167.16px,#8bc13c 168.36px 168.37px,#d40614 169.57px 170.78px,#8bc13c 171.98px 171.99px,#d40614 173.19px 173.19px,#8bc13c 174.39px 175.61px,#d40614 176.81px 176.81px,#10100a 178.01px 178.02px,#d40614 179.22px 179.23px,#8bc13c 180.43px 191.30px,#10100a 192.50px 194.92px,#8bc13c 196.12px 196.12px,#10100a 197.32px 198.54px,#d40614 199.74px 200.95px,#10100a 202.15px 204.57px,#d40614 205.77px 206.99px,#8bc13c 208.19px 209.40px,#d40614 210.60px 210.61px,#8bc13c 211.81px 211.81px,#10100a 213.01px 214.23px,#8bc13c 215.43px 220.26px,#10100a 221.46px 221.47px,#8bc13c 222.67px 222.68px,#10100a 223.88px 223.88px,#8bc13c 225.08px 228.71px,#d40614 229.91px 231.12px,#8bc13c 232.32px 239.57px,#10100a 240.77px 244.40px,#8bc13c 245.60px 245.61px,#10100a 246.81px 246.81px,#8bc13c 248.01px 251.64px,#d40614 252.84px 252.85px,#8bc13c 254.05px 255.26px,#10100a 256.46px 257.68px,#8bc13c 258.88px 261.30px,#d40614 262.50px 264.92px,#8bc13c 266.12px 266.12px,#d40614 267.32px 268.54px,#8bc13c 269.74px 270.95px,#10100a 272.15px 272.16px,#d40614 273.36px 275.78px,#8bc13c 276.98px 276.99px,#d40614 278.19px 281.81px,#8bc13c 283.01px 283.02px,#d40614 284.22px 284.23px,#8bc13c 285.43px 290.26px,#10100a 291.46px 297.50px,#d40614 298.70px 298.71px,#8bc13c 299.91px 299.92px,#10100a 301.12px 302.33px,#d40614 303.53px 303.54px,#10100a 304.74px 304.74px,#d40614 305.94px 307.16px,#8bc13c 308.36px 308.37px,#10100a 309.57px 309.57px,#8bc13c 310.77px 314.40px,#10100a 315.60px 319.23px,#d40614 320.43px 325.26px,#8bc13c 326.46px 326.47px,#d40614 327.67px 328.88px,#8bc13c 330.08px 330.09px,#10100a 331.29px 332.50px,#8bc13c 333.70px 333.71px,#10100a 334.91px 336.12px,#8bc13c 337.32px 337.33px,#d40614 338.53px 338.54px,#10100a 339.74px 343.37px,#d40614 344.57px 345.78px,#10100a 346.98px 348.19px,#8bc13c 349.39px 350.00px)"></div><div style="left:305.54px;width:12.72px;background:linear-gradient(#d40614 0.00px 3.02px,#8bc13c 4.22px 4.23px,#d40614 5.43px 7.85px,#10100a 9.05px 9.06px,#d40614 10.26px 12.68px,#8bc13c 13.88px 17.50px,#d40614 18.70px 19.92px,#10100a 21.12px 21.12px,#d40614 22.32px 28.37px,#8bc13c 29.57px 30.78px,#d40614 31.98px 38.02px,#8bc13c 39.22px 39.23px,#d40614 40.43px 46.47px,#8bc13c 47.67px 47.68px,#10100a 48.88px 48.88px,#d40614 50.08px 52.50px,#8bc13c 53.70px 57.33px,#10100a 58.53px 58.54px,#d40614 59.74px 59.74px,#8bc13c 60.94px 60.95px,#d40614 62.15px 65.78px,#8bc13c 66.98px 71.81px,#10100a 73.01px 73.02px,#8bc13c 74.22px 74.23px,#d40614 75.43px 75.43px,#8bc13c 76.63px 77.85px,#d40614 79.05px 80.26px,#10100a 81.46px 82.68px,#8bc13c 83.88px 85.09px,#10100a 86.29px 86.30px,#8bc13c 87.50px 88.71px,#10100a 89.91px 91.12px,#8bc13c 92.32px 93.54px,#10100a 94.74px 95.95px,#d40614 97.15px 97.16px,#8bc13c 98.36px 100.78px,#10100a 101.98px 103.19px,#8bc13c 104.39px 104.40px,#10100a 105.60px 105.61px,#8bc13c 106.81px 108.02px,#d40614 109.22px 114.06px,#8bc13c 115.26px 116.47px,#10100a 117.67px 117.68px,#8bc13c 118.88px 118.88px,#d40614 120.08px 121.30px,#8bc13c 122.50px 122.50px,#d40614 123.70px 127.33px,#8bc13c 128.53px 128.54px,#10100a 129.74px 130.95px,#d40614 132.15px 134.57px,#8bc13c 135.77px 135.78px,#d40614 136.98px 147.85px,#8bc13c 149.05px 149.06px,#d40614 150.26px 169.57px,#8bc13c 170.77px 170.78px,#d40614 171.98px 171.99px,#8bc13c 173.19px 173.19px,#d40614 174.39px 181.64px,#10100a 182.84px 184.06px,#d40614 185.26px 186.47px,#10100a 187.67px 187.68px,#8bc13c 188.88px 188.88px,#10100a 190.08px 190.09px,#8bc13c 191.29px 192.50px,#10100a 193.70px 193.71px,#8bc13c 194.91px 194.92px,#10100a 196.12px 196.12px,#8bc13c 197.32px 197.33px,#d40614 198.53px 198.54px,#10100a 199.74px 199.74px,#8bc13c 200.94px 200.95px,#10100a 202.15px 202.16px,#d40614 203.36px 204.57px,#10100a 205.77px 206.99px,#d40614 208.19px 209.40px,#10100a 210.60px 211.81px,#8bc13c 213.01px 214.23px,#10100a 215.43px 217.85px,#d40614 219.05px 219.06px,#8bc13c 220.26px 222.68px,#10100a 223.88px 225.09px,#d40614 226.29px 226.30px,#8bc13c 227.50px 228.71px,#10100a 229.91px 229.92px,#d40614 231.12px 235.95px,#8bc13c 237.15px 237.16px,#d40614 238.36px 238.37px,#10100a 239.57px 239.57px,#d40614 240.77px 241.99px,#10100a 243.19px 245.61px,#d40614 246.81px 248.02px,#8bc13c 249.22px 254.06px,#d40614 255.26px 256.47px,#8bc13c 257.67px 258.88px,#d40614 260.08px 261.30px,#10100a 262.50px 262.50px,#8bc13c 263.70px 264.92px,#d40614 266.12px 272.16px,#10100a 273.36px 275.78px,#8bc13c 276.98px 278.19px,#d40614 279.39px 279.40px,#8bc13c 280.60px 284.23px,#d40614 285.43px 285.43px,#8bc13c 286.63px 289.06px,#d40614 290.26px 290.26px,#8bc13c 291.46px 291.47px,#10100a 292.67px 292.68px,#8bc13c 293.88px 293.88px,#10100a 295.08px 296.30px,#8bc13c 297.50px 297.50px,#10100a 298.70px 299.92px,#d40614 301.12px 303.54px,#10100a 304.74px 304.74px,#8bc13c 305.94px 305.95px,#10100a 307.15px 308.37px,#d40614 309.57px 310.78px,#8bc13c 311.98px 314.40px,#d40614 315.60px 318.02px,#10100a 319.22px 320.43px,#8bc13c 321.63px 325.26px,#d40614 326.46px 326.47px,#8bc13c 327.67px 328.88px,#10100a 330.08px 330.09px,#d40614 331.29px 331.30px,#10100a 332.50px 332.50px,#8bc13c 333.70px 333.71px,#10100a 334.91px 336.12px,#d40614 337.32px 339.74px,#10100a 340.94px 340.95px,#8bc13c 342.15px 344.57px,#10100a 345.77px 348.19px,#8bc13c 349.39px 350.00px)"></div><div style="left:318.24px;width:12.72px;background:linear-gradient(#d40614 0.00px 0.61px,#10100a 1.81px 1.81px,#8bc13c 3.01px 9.06px,#d40614 10.26px 12.68px,#8bc13c 13.88px 19.92px,#d40614 21.12px 22.33px,#8bc13c 23.53px 23.54px,#10100a 24.74px 24.74px,#8bc13c 25.94px 25.95px,#d40614 27.15px 34.40px,#8bc13c 35.60px 36.81px,#10100a 38.01px 38.02px,#8bc13c 39.22px 39.23px,#d40614 40.43px 40.43px,#10100a 41.63px 42.85px,#d40614 44.05px 45.26px,#10100a 46.46px 46.47px,#8bc13c 47.67px 47.68px,#10100a 48.88px 54.92px,#8bc13c 56.12px 58.54px,#d40614 59.74px 62.16px,#8bc13c 63.36px 64.57px,#d40614 65.77px 65.78px,#10100a 66.98px 66.99px,#8bc13c 68.19px 70.61px,#10100a 71.81px 73.02px,#8bc13c 74.22px 74.23px,#d40614 75.43px 75.43px,#8bc13c 76.63px 80.26px,#d40614 81.46px 82.68px,#8bc13c 83.88px 83.88px,#d40614 85.08px 86.30px,#8bc13c 87.50px 88.71px,#d40614 89.91px 89.92px,#8bc13c 91.12px 97.16px,#10100a 98.36px 98.37px,#8bc13c 99.57px 99.57px,#d40614 100.77px 100.78px,#8bc13c 101.98px 101.99px,#10100a 103.19px 104.40px,#8bc13c 105.60px 105.61px,#d40614 106.81px 106.81px,#8bc13c 108.01px 108.02px,#d40614 109.22px 114.06px,#8bc13c 115.26px 117.68px,#10100a 118.88px 118.88px,#d40614 120.08px 128.54px,#8bc13c 129.74px 129.74px,#d40614 130.94px 139.40px,#10100a 140.60px 140.61px,#d40614 141.81px 149.06px,#8bc13c 150.26px 150.26px,#d40614 151.46px 175.61px,#8bc13c 176.81px 176.81px,#d40614 178.01px 179.23px,#8bc13c 180.43px 182.85px,#d40614 184.05px 187.68px,#8bc13c 188.88px 188.88px,#d40614 190.08px 194.92px,#10100a 196.12px 196.12px,#d40614 197.32px 200.95px,#8bc13c 202.15px 203.37px,#d40614 204.57px 214.23px,#8bc13c 215.43px 215.43px,#d40614 216.63px 217.85px,#10100a 219.05px 219.06px,#8bc13c 220.26px 220.26px,#d40614 221.46px 221.47px,#10100a 222.67px 222.68px,#d40614 223.88px 223.88px,#8bc13c 225.08px 225.09px,#d40614 226.29px 231.12px,#8bc13c 232.32px 235.95px,#d40614 237.15px 239.57px,#10100a 240.77px 241.99px,#8bc13c 243.19px 244.40px,#d40614 245.60px 245.61px,#10100a 246.81px 249.23px,#8bc13c 250.43px 250.43px,#10100a 251.63px 252.85px,#8bc13c 254.05px 255.26px,#10100a 256.46px 257.68px,#8bc13c 258.88px 258.88px,#d40614 260.08px 268.54px,#8bc13c 269.74px 270.95px,#d40614 272.15px 276.99px,#10100a 278.19px 279.40px,#d40614 280.60px 281.81px,#8bc13c 283.01px 287.85px,#10100a 289.05px 289.06px,#8bc13c 290.26px 295.09px,#10100a 296.29px 296.30px,#8bc13c 297.50px 304.74px,#d40614 305.94px 305.95px,#8bc13c 307.15px 307.16px,#10100a 308.36px 308.37px,#8bc13c 309.57px 310.78px,#d40614 311.98px 311.99px,#8bc13c 313.19px 314.40px,#d40614 315.60px 315.61px,#8bc13c 316.81px 318.02px,#10100a 319.22px 322.85px,#8bc13c 324.05px 327.68px,#d40614 328.88px 328.88px,#10100a 330.08px 330.09px,#8bc13c 331.29px 333.71px,#10100a 334.91px 334.92px,#8bc13c 336.12px 336.12px,#10100a 337.32px 338.54px,#8bc13c 339.74px 348.19px,#d40614 349.39px 350.00px)"></div><div style="left:330.95px;width:12.72px;background:linear-gradient(#d40614 0.00px 0.61px,#8bc13c 1.81px 4.23px,#10100a 5.43px 6.64px,#8bc13c 7.84px 10.26px,#10100a 11.46px 12.68px,#8bc13c 13.88px 17.50px,#d40614 18.70px 18.71px,#8bc13c 19.91px 19.92px,#d40614 21.12px 22.33px,#8bc13c 23.53px 23.54px,#d40614 24.74px 28.37px,#8bc13c 29.57px 33.19px,#10100a 34.39px 34.40px,#d40614 35.60px 40.43px,#8bc13c 41.63px 47.68px,#10100a 48.88px 50.09px,#8bc13c 51.29px 51.30px,#d40614 52.50px 52.50px,#10100a 53.70px 53.71px,#8bc13c 54.91px 57.33px,#10100a 58.53px 59.74px,#8bc13c 60.94px 60.95px,#10100a 62.15px 63.37px,#8bc13c 64.57px 64.57px,#d40614 65.77px 66.99px,#8bc13c 68.19px 68.19px,#d40614 69.39px 69.40px,#8bc13c 70.60px 70.61px,#d40614 71.81px 73.02px,#10100a 74.22px 75.43px,#d40614 76.63px 76.64px,#10100a 77.84px 77.85px,#d40614 79.05px 80.26px,#8bc13c 81.46px 83.88px,#d40614 85.08px 87.50px,#8bc13c 88.70px 88.71px,#d40614 89.91px 89.92px,#8bc13c 91.12px 98.37px,#10100a 99.57px 99.57px,#8bc13c 100.77px 103.19px,#10100a 104.39px 104.40px,#d40614 105.60px 105.61px,#10100a 106.81px 108.02px,#8bc13c 109.22px 111.64px,#d40614 112.84px 112.85px,#10100a 114.05px 115.26px,#d40614 116.46px 117.68px,#10100a 118.88px 118.88px,#d40614 120.08px 123.71px,#8bc13c 124.91px 124.92px,#d40614 126.12px 147.85px,#8bc13c 149.05px 149.06px,#d40614 150.26px 159.92px,#8bc13c 161.12px 161.12px,#d40614 162.32px 169.57px,#8bc13c 170.77px 170.78px,#d40614 171.98px 176.81px,#10100a 178.01px 178.02px,#d40614 179.22px 179.23px,#8bc13c 180.43px 181.64px,#d40614 182.84px 184.06px,#10100a 185.26px 185.26px,#d40614 186.46px 208.19px,#8bc13c 209.39px 209.40px,#d40614 210.60px 215.43px,#8bc13c 216.63px 216.64px,#d40614 217.84px 227.50px,#10100a 228.70px 228.71px,#8bc13c 229.91px 229.92px,#d40614 231.12px 231.12px,#8bc13c 232.32px 233.54px,#d40614 234.74px 234.74px,#8bc13c 235.94px 237.16px,#10100a 238.36px 238.37px,#d40614 239.57px 239.57px,#10100a 240.77px 244.40px,#d40614 245.60px 245.61px,#10100a 246.81px 254.06px,#8bc13c 255.26px 256.47px,#d40614 257.67px 257.68px,#8bc13c 258.88px 261.30px,#d40614 262.50px 262.50px,#8bc13c 263.70px 268.54px,#10100a 269.74px 273.37px,#d40614 274.57px 275.78px,#8bc13c 276.98px 276.99px,#10100a 278.19px 284.23px,#8bc13c 285.43px 290.26px,#d40614 291.46px 291.47px,#8bc13c 292.67px 296.30px,#10100a 297.50px 298.71px,#8bc13c 299.91px 299.92px,#d40614 301.12px 302.33px,#8bc13c 303.53px 305.95px,#10100a 307.15px 307.16px,#d40614 308.36px 311.99px,#8bc13c 313.19px 313.19px,#d40614 314.39px 314.40px,#8bc13c 315.60px 318.02px,#d40614 319.22px 319.23px,#8bc13c 320.43px 321.64px,#10100a 322.84px 325.26px,#8bc13c 326.46px 327.68px,#d40614 328.88px 328.88px,#8bc13c 330.08px 330.09px,#10100a 331.29px 332.50px,#d40614 333.70px 333.71px,#10100a 334.91px 334.92px,#8bc13c 336.12px 338.54px,#10100a 339.74px 339.74px,#8bc13c 340.94px 342.16px,#10100a 343.36px 343.37px,#d40614 344.57px 344.57px,#8bc13c 345.77px 348.19px,#10100a 349.39px 350.00px)"></div><div style="left:343.65px;width:12.72px;background:linear-gradient(#d40614 0.00px 5.43px,#8bc13c 6.63px 6.64px,#d40614 7.84px 7.85px,#10100a 9.05px 9.06px,#d40614 10.26px 10.26px,#8bc13c 11.46px 12.68px,#d40614 13.88px 15.09px,#8bc13c 16.29px 18.71px,#d40614 19.91px 21.12px,#8bc13c 22.32px 22.33px,#d40614 23.53px 28.37px,#10100a 29.57px 30.78px,#d40614 31.98px 36.81px,#8bc13c 38.01px 40.43px,#d40614 41.63px 46.47px,#8bc13c 47.67px 51.30px,#d40614 52.50px 58.54px,#10100a 59.74px 59.74px,#8bc13c 60.94px 60.95px,#d40614 62.15px 65.78px,#8bc13c 66.98px 70.61px,#10100a 71.81px 71.81px,#8bc13c 73.01px 75.43px,#d40614 76.63px 76.64px,#8bc13c 77.84px 81.47px,#d40614 82.67px 82.68px,#8bc13c 83.88px 83.88px,#10100a 85.08px 85.09px,#8bc13c 86.29px 86.30px,#10100a 87.50px 87.50px,#8bc13c 88.70px 89.92px,#d40614 91.12px 92.33px,#8bc13c 93.53px 98.37px,#10100a 99.57px 100.78px,#8bc13c 101.98px 104.40px,#10100a 105.60px 105.61px,#8bc13c 106.81px 106.81px,#10100a 108.01px 108.02px,#d40614 109.22px 109.23px,#10100a 110.43px 110.43px,#d40614 111.63px 112.85px,#8bc13c 114.05px 114.06px,#d40614 115.26px 115.26px,#8bc13c 116.46px 117.68px,#10100a 118.88px 118.88px,#d40614 120.08px 122.50px,#10100a 123.70px 123.71px,#d40614 124.91px 147.85px,#8bc13c 149.05px 149.06px,#d40614 150.26px 151.47px,#8bc13c 152.67px 152.68px,#d40614 153.88px 170.78px,#10100a 171.98px 171.99px,#8bc13c 173.19px 173.19px,#d40614 174.39px 174.40px,#8bc13c 175.60px 175.61px,#d40614 176.81px 179.23px,#10100a 180.43px 180.43px,#8bc13c 181.63px 181.64px,#d40614 182.84px 196.12px,#8bc13c 197.32px 197.33px,#d40614 198.53px 200.95px,#10100a 202.15px 202.16px,#d40614 203.36px 205.78px,#8bc13c 206.98px 206.99px,#d40614 208.19px 209.40px,#10100a 210.60px 215.43px,#8bc13c 216.63px 216.64px,#10100a 217.84px 217.85px,#d40614 219.05px 221.47px,#8bc13c 222.67px 222.68px,#d40614 223.88px 225.09px,#8bc13c 226.29px 226.30px,#d40614 227.50px 229.92px,#8bc13c 231.12px 231.12px,#d40614 232.32px 234.74px,#8bc13c 235.94px 235.95px,#d40614 237.15px 238.37px,#10100a 239.57px 239.57px,#d40614 240.77px 240.78px,#10100a 241.98px 241.99px,#d40614 243.19px 244.40px,#10100a 245.60px 245.61px,#d40614 246.81px 248.02px,#10100a 249.22px 249.23px,#d40614 250.43px 251.64px,#8bc13c 252.84px 254.06px,#10100a 255.26px 255.26px,#d40614 256.46px 262.50px,#10100a 263.70px 266.12px,#d40614 267.32px 267.33px,#10100a 268.53px 269.74px,#8bc13c 270.94px 275.78px,#10100a 276.98px 276.99px,#8bc13c 278.19px 278.19px,#d40614 279.39px 279.40px,#8bc13c 280.60px 280.61px,#10100a 281.81px 281.81px,#8bc13c 283.01px 284.23px,#d40614 285.43px 285.43px,#8bc13c 286.63px 286.64px,#10100a 287.84px 287.85px,#8bc13c 289.05px 290.26px,#d40614 291.46px 291.47px,#8bc13c 292.67px 303.54px,#d40614 304.74px 304.74px,#8bc13c 305.94px 308.37px,#10100a 309.57px 309.57px,#8bc13c 310.77px 310.78px,#d40614 311.98px 311.99px,#8bc13c 313.19px 315.61px,#d40614 316.81px 319.23px,#8bc13c 320.43px 321.64px,#10100a 322.84px 324.06px,#8bc13c 325.26px 325.26px,#d40614 326.46px 326.47px,#8bc13c 327.67px 328.88px,#d40614 330.08px 330.09px,#10100a 331.29px 333.71px,#8bc13c 334.91px 334.92px,#10100a 336.12px 336.12px,#8bc13c 337.32px 340.95px,#10100a 342.15px 342.16px,#8bc13c 343.36px 350.00px)"></div><div style="left:356.35px;width:12.72px;background:linear-gradient(#8bc13c 0.00px 0.61px,#d40614 1.81px 1.81px,#8bc13c 3.01px 3.02px,#d40614 4.22px 4.23px,#8bc13c 5.43px 7.85px,#d40614 9.05px 15.09px,#10100a 16.29px 16.30px,#8bc13c 17.50px 21.12px,#d40614 22.32px 23.54px,#8bc13c 24.74px 25.95px,#d40614 27.15px 28.37px,#10100a 29.57px 29.57px,#8bc13c 30.77px 33.19px,#d40614 34.39px 36.81px,#8bc13c 38.01px 38.02px,#d40614 39.22px 39.23px,#8bc13c 40.43px 41.64px,#10100a 42.84px 42.85px,#d40614 44.05px 44.06px,#8bc13c 45.26px 47.68px,#10100a 48.88px 48.88px,#d40614 50.08px 50.09px,#8bc13c 51.29px 52.50px,#d40614 53.70px 54.92px,#8bc13c 56.12px 57.33px,#10100a 58.53px 58.54px,#d40614 59.74px 59.74px,#10100a 60.94px 62.16px,#d40614 63.36px 63.37px,#8bc13c 64.57px 69.40px,#d40614 70.60px 70.61px,#8bc13c 71.81px 71.81px,#d40614 73.01px 73.02px,#8bc13c 74.22px 79.06px,#10100a 80.26px 80.26px,#8bc13c 81.46px 85.09px,#10100a 86.29px 86.30px,#d40614 87.50px 87.50px,#10100a 88.70px 91.12px,#8bc13c 92.32px 92.33px,#10100a 93.53px 93.54px,#8bc13c 94.74px 100.78px,#d40614 101.98px 101.99px,#10100a 103.19px 103.19px,#8bc13c 104.39px 104.40px,#10100a 105.60px 105.61px,#8bc13c 106.81px 111.64px,#d40614 112.84px 116.47px,#10100a 117.67px 118.88px,#d40614 120.08px 128.54px,#8bc13c 129.74px 130.95px,#d40614 132.15px 135.78px,#10100a 136.98px 136.99px,#d40614 138.19px 138.19px,#8bc13c 139.39px 139.40px,#d40614 140.60px 149.06px,#8bc13c 150.26px 150.26px,#d40614 151.46px 156.30px,#10100a 157.50px 158.71px,#d40614 159.91px 167.16px,#8bc13c 168.36px 168.37px,#d40614 169.57px 169.57px,#8bc13c 170.77px 170.78px,#d40614 171.98px 171.99px,#10100a 173.19px 173.19px,#d40614 174.39px 174.40px,#10100a 175.60px 175.61px,#d40614 176.81px 176.81px,#10100a 178.01px 178.02px,#8bc13c 179.22px 180.43px,#d40614 181.63px 187.68px,#8bc13c 188.88px 190.09px,#10100a 191.29px 192.50px,#d40614 193.70px 197.33px,#10100a 198.53px 198.54px,#d40614 199.74px 199.74px,#10100a 200.94px 200.95px,#d40614 202.15px 204.57px,#10100a 205.77px 205.78px,#d40614 206.98px 209.40px,#8bc13c 210.60px 210.61px,#d40614 211.81px 213.02px,#8bc13c 214.22px 214.23px,#10100a 215.43px 215.43px,#d40614 216.63px 216.64px,#8bc13c 217.84px 220.26px,#d40614 221.46px 222.68px,#8bc13c 223.88px 223.88px,#d40614 225.08px 229.92px,#10100a 231.12px 231.12px,#d40614 232.32px 235.95px,#8bc13c 237.15px 237.16px,#d40614 238.36px 239.57px,#8bc13c 240.77px 243.19px,#d40614 244.39px 246.81px,#10100a 248.01px 248.02px,#8bc13c 249.22px 249.23px,#d40614 250.43px 250.43px,#8bc13c 251.63px 252.85px,#d40614 254.05px 254.06px,#8bc13c 255.26px 255.26px,#d40614 256.46px 256.47px,#10100a 257.67px 257.68px,#d40614 258.88px 260.09px,#10100a 261.29px 261.30px,#8bc13c 262.50px 262.50px,#10100a 263.70px 267.33px,#d40614 268.53px 268.54px,#8bc13c 269.74px 269.74px,#10100a 270.94px 270.95px,#8bc13c 272.15px 274.57px,#10100a 275.77px 278.19px,#8bc13c 279.39px 286.64px,#d40614 287.84px 287.85px,#8bc13c 289.05px 289.06px,#d40614 290.26px 290.26px,#10100a 291.46px 292.68px,#8bc13c 293.88px 293.88px,#d40614 295.08px 295.09px,#8bc13c 296.29px 297.50px,#d40614 298.70px 298.71px,#10100a 299.91px 299.92px,#8bc13c 301.12px 301.12px,#10100a 302.32px 304.74px,#8bc13c 305.94px 305.95px,#d40614 307.15px 307.16px,#8bc13c 308.36px 309.57px,#10100a 310.77px 311.99px,#8bc13c 313.19px 315.61px,#d40614 316.81px 316.81px,#8bc13c 318.01px 321.64px,#10100a 322.84px 322.85px,#8bc13c 324.05px 326.47px,#10100a 327.67px 327.68px,#d40614 328.88px 328.88px,#10100a 330.08px 334.92px,#8bc13c 336.12px 337.33px,#d40614 338.53px 338.54px,#10100a 339.74px 342.16px,#d40614 343.36px 343.37px,#10100a 344.57px 350.00px)"></div><div style="left:369.06px;width:12.72px;background:linear-gradient(#d40614 0.00px 7.85px,#8bc13c 9.05px 9.06px,#d40614 10.26px 11.47px,#10100a 12.67px 12.68px,#8bc13c 13.88px 15.09px,#d40614 16.29px 19.92px,#8bc13c 21.12px 21.12px,#d40614 22.32px 22.33px,#8bc13c 23.53px 25.95px,#d40614 27.15px 27.16px,#8bc13c 28.36px 28.37px,#10100a 29.57px 29.57px,#8bc13c 30.77px 33.19px,#d40614 34.39px 36.81px,#8bc13c 38.01px 40.43px,#10100a 41.63px 41.64px,#8bc13c 42.84px 46.47px,#d40614 47.67px 47.68px,#10100a 48.88px 48.88px,#d40614 50.08px 51.30px,#8bc13c 52.50px 59.74px,#10100a 60.94px 60.95px,#d40614 62.15px 64.57px,#10100a 65.77px 65.78px,#8bc13c 66.98px 66.99px,#10100a 68.19px 68.19px,#8bc13c 69.39px 71.81px,#10100a 73.01px 73.02px,#8bc13c 74.22px 76.64px,#d40614 77.84px 77.85px,#8bc13c 79.05px 81.47px,#d40614 82.67px 82.68px,#8bc13c 83.88px 86.30px,#d40614 87.50px 87.50px,#8bc13c 88.70px 88.71px,#d40614 89.91px 89.92px,#10100a 91.12px 91.12px,#8bc13c 92.32px 92.33px,#10100a 93.53px 94.74px,#d40614 95.94px 95.95px,#8bc13c 97.15px 98.37px,#10100a 99.57px 99.57px,#d40614 100.77px 100.78px,#8bc13c 101.98px 109.23px,#d40614 110.43px 110.43px,#8bc13c 111.63px 111.64px,#d40614 112.84px 114.06px,#10100a 115.26px 115.26px,#8bc13c 116.46px 118.88px,#d40614 120.08px 152.68px,#8bc13c 153.88px 153.88px,#d40614 155.08px 159.92px,#8bc13c 161.12px 161.12px,#d40614 162.32px 168.37px,#8bc13c 169.57px 170.78px,#d40614 171.98px 173.19px,#10100a 174.39px 174.40px,#d40614 175.60px 176.81px,#8bc13c 178.01px 178.02px,#d40614 179.22px 180.43px,#8bc13c 181.63px 182.85px,#d40614 184.05px 184.06px,#10100a 185.26px 185.26px,#8bc13c 186.46px 187.68px,#d40614 188.88px 188.88px,#10100a 190.08px 190.09px,#d40614 191.29px 191.30px,#8bc13c 192.50px 198.54px,#10100a 199.74px 199.74px,#8bc13c 200.94px 200.95px,#d40614 202.15px 205.78px,#10100a 206.98px 206.99px,#d40614 208.19px 213.02px,#8bc13c 214.22px 214.23px,#d40614 215.43px 217.85px,#10100a 219.05px 220.26px,#d40614 221.46px 226.30px,#8bc13c 227.50px 227.50px,#d40614 228.70px 228.71px,#8bc13c 229.91px 229.92px,#10100a 231.12px 231.12px,#d40614 232.32px 233.54px,#8bc13c 234.74px 234.74px,#d40614 235.94px 235.95px,#8bc13c 237.15px 238.37px,#10100a 239.57px 240.78px,#d40614 241.98px 241.99px,#8bc13c 243.19px 244.40px,#d40614 245.60px 246.81px,#8bc13c 248.01px 250.43px,#d40614 251.63px 252.85px,#8bc13c 254.05px 256.47px,#d40614 257.67px 258.88px,#8bc13c 260.08px 260.09px,#10100a 261.29px 262.50px,#8bc13c 263.70px 263.71px,#10100a 264.91px 267.33px,#8bc13c 268.53px 268.54px,#10100a 269.74px 269.74px,#8bc13c 270.94px 272.16px,#10100a 273.36px 273.37px,#8bc13c 274.57px 275.78px,#d40614 276.98px 276.99px,#10100a 278.19px 278.19px,#8bc13c 279.39px 279.40px,#10100a 280.60px 283.02px,#d40614 284.22px 284.23px,#8bc13c 285.43px 287.85px,#10100a 289.05px 292.68px,#8bc13c 293.88px 295.09px,#10100a 296.29px 298.71px,#8bc13c 299.91px 301.12px,#10100a 302.32px 302.33px,#d40614 303.53px 303.54px,#10100a 304.74px 305.95px,#8bc13c 307.15px 309.57px,#10100a 310.77px 313.19px,#8bc13c 314.39px 315.61px,#d40614 316.81px 316.81px,#8bc13c 318.01px 318.02px,#10100a 319.22px 319.23px,#8bc13c 320.43px 325.26px,#d40614 326.46px 326.47px,#8bc13c 327.67px 327.68px,#d40614 328.88px 328.88px,#8bc13c 330.08px 332.50px,#10100a 333.70px 339.74px,#d40614 340.94px 340.95px,#8bc13c 342.15px 344.57px,#10100a 345.77px 350.00px)"></div><div style="left:381.76px;width:12.72px;background:linear-gradient(#d40614 0.00px 1.81px,#8bc13c 3.01px 6.64px,#d40614 7.84px 7.85px,#8bc13c 9.05px 11.47px,#d40614 12.67px 13.88px,#8bc13c 15.08px 15.09px,#10100a 16.29px 16.30px,#8bc13c 17.50px 18.71px,#d40614 19.91px 21.12px,#8bc13c 22.32px 23.54px,#d40614 24.74px 25.95px,#8bc13c 27.15px 27.16px,#10100a 28.36px 28.37px,#8bc13c 29.57px 29.57px,#d40614 30.77px 31.99px,#8bc13c 33.19px 38.02px,#d40614 39.22px 39.23px,#8bc13c 40.43px 44.06px,#10100a 45.26px 46.47px,#8bc13c 47.67px 47.68px,#d40614 48.88px 48.88px,#8bc13c 50.08px 52.50px,#10100a 53.70px 54.92px,#8bc13c 56.12px 57.33px,#d40614 58.53px 58.54px,#8bc13c 59.74px 59.74px,#10100a 60.94px 60.95px,#d40614 62.15px 62.16px,#10100a 63.36px 64.57px,#d40614 65.77px 65.78px,#8bc13c 66.98px 68.19px,#d40614 69.39px 69.40px,#8bc13c 70.60px 71.81px,#d40614 73.01px 75.43px,#8bc13c 76.63px 79.06px,#d40614 80.26px 80.26px,#8bc13c 81.46px 83.88px,#d40614 85.08px 85.09px,#8bc13c 86.29px 86.30px,#10100a 87.50px 87.50px,#8bc13c 88.70px 91.12px,#10100a 92.32px 92.33px,#d40614 93.53px 93.54px,#8bc13c 94.74px 94.74px,#d40614 95.94px 95.95px,#8bc13c 97.15px 98.37px,#d40614 99.57px 99.57px,#10100a 100.77px 101.99px,#8bc13c 103.19px 103.19px,#10100a 104.39px 105.61px,#8bc13c 106.81px 106.81px,#d40614 108.01px 108.02px,#8bc13c 109.22px 109.23px,#d40614 110.43px 112.85px,#10100a 114.05px 115.26px,#8bc13c 116.46px 117.68px,#10100a 118.88px 118.88px,#8bc13c 120.08px 120.09px,#d40614 121.29px 129.74px,#10100a 130.94px 130.95px,#d40614 132.15px 135.78px,#8bc13c 136.98px 136.99px,#d40614 138.19px 141.81px,#8bc13c 143.01px 143.02px,#d40614 144.22px 168.37px,#8bc13c 169.57px 169.57px,#d40614 170.77px 173.19px,#10100a 174.39px 174.40px,#8bc13c 175.60px 175.61px,#d40614 176.81px 179.23px,#10100a 180.43px 180.43px,#d40614 181.63px 181.64px,#8bc13c 182.84px 182.85px,#d40614 184.05px 188.88px,#8bc13c 190.08px 190.09px,#d40614 191.29px 192.50px,#8bc13c 193.70px 194.92px,#d40614 196.12px 197.33px,#10100a 198.53px 198.54px,#d40614 199.74px 199.74px,#8bc13c 200.94px 200.95px,#d40614 202.15px 205.78px,#10100a 206.98px 206.99px,#d40614 208.19px 209.40px,#8bc13c 210.60px 210.61px,#10100a 211.81px 214.23px,#d40614 215.43px 217.85px,#8bc13c 219.05px 219.06px,#d40614 220.26px 220.26px,#8bc13c 221.46px 221.47px,#10100a 222.67px 225.09px,#d40614 226.29px 231.12px,#10100a 232.32px 232.33px,#d40614 233.53px 234.74px,#8bc13c 235.94px 238.37px,#10100a 239.57px 240.78px,#8bc13c 241.98px 241.99px,#d40614 243.19px 245.61px,#10100a 246.81px 248.02px,#8bc13c 249.22px 249.23px,#10100a 250.43px 250.43px,#d40614 251.63px 254.06px,#10100a 255.26px 255.26px,#8bc13c 256.46px 256.47px,#d40614 257.67px 258.88px,#10100a 260.08px 261.30px,#8bc13c 262.50px 263.71px,#d40614 264.91px 264.92px,#8bc13c 266.12px 269.74px,#10100a 270.94px 273.37px,#8bc13c 274.57px 274.57px,#d40614 275.77px 275.78px,#8bc13c 276.98px 276.99px,#10100a 278.19px 278.19px,#8bc13c 279.39px 279.40px,#d40614 280.60px 280.61px,#10100a 281.81px 283.02px,#d40614 284.22px 287.85px,#10100a 289.05px 289.06px,#8bc13c 290.26px 290.26px,#d40614 291.46px 291.47px,#8bc13c 292.67px 295.09px,#10100a 296.29px 296.30px,#d40614 297.50px 299.92px,#10100a 301.12px 301.12px,#8bc13c 302.32px 304.74px,#d40614 305.94px 307.16px,#10100a 308.36px 308.37px,#d40614 309.57px 309.57px,#8bc13c 310.77px 315.61px,#10100a 316.81px 318.02px,#d40614 319.22px 319.23px,#8bc13c 320.43px 321.64px,#10100a 322.84px 324.06px,#8bc13c 325.26px 325.26px,#d40614 326.46px 326.47px,#8bc13c 327.67px 328.88px,#10100a 330.08px 332.50px,#8bc13c 333.70px 333.71px,#10100a 334.91px 337.33px,#8bc13c 338.53px 338.54px,#d40614 339.74px 339.74px,#8bc13c 340.94px 340.95px,#10100a 342.15px 342.16px,#8bc13c 343.36px 343.37px,#d40614 344.57px 344.57px,#10100a 345.77px 348.19px,#8bc13c 349.39px 350.00px)"></div><div style="left:394.47px;width:12.72px;background:linear-gradient(#d40614 0.00px 5.43px,#8bc13c 6.63px 6.64px,#d40614 7.84px 7.85px,#10100a 9.05px 9.06px,#8bc13c 10.26px 11.47px,#d40614 12.67px 12.68px,#8bc13c 13.88px 18.71px,#d40614 19.91px 21.12px,#8bc13c 22.32px 23.54px,#d40614 24.74px 25.95px,#10100a 27.15px 27.16px,#8bc13c 28.36px 30.78px,#10100a 31.98px 31.99px,#8bc13c 33.19px 36.81px,#10100a 38.01px 38.02px,#d40614 39.22px 40.43px,#8bc13c 41.63px 41.64px,#d40614 42.84px 42.85px,#8bc13c 44.05px 54.92px,#10100a 56.12px 58.54px,#d40614 59.74px 59.74px,#8bc13c 60.94px 63.37px,#d40614 64.57px 66.99px,#8bc13c 68.19px 71.81px,#d40614 73.01px 73.02px,#8bc13c 74.22px 74.23px,#10100a 75.43px 75.43px,#8bc13c 76.63px 81.47px,#d40614 82.67px 82.68px,#10100a 83.88px 85.09px,#8bc13c 86.29px 89.92px,#10100a 91.12px 91.12px,#8bc13c 92.32px 92.33px,#10100a 93.53px 93.54px,#d40614 94.74px 94.74px,#8bc13c 95.94px 98.37px,#10100a 99.57px 99.57px,#d40614 100.77px 104.40px,#10100a 105.60px 105.61px,#8bc13c 106.81px 109.23px,#10100a 110.43px 110.43px,#8bc13c 111.63px 114.06px,#d40614 115.26px 116.47px,#10100a 117.67px 117.68px,#d40614 118.88px 121.30px,#10100a 122.50px 122.50px,#d40614 123.70px 138.19px,#8bc13c 139.39px 139.40px,#d40614 140.60px 163.54px,#8bc13c 164.74px 165.95px,#d40614 167.15px 176.81px,#10100a 178.01px 178.02px,#d40614 179.22px 182.85px,#8bc13c 184.05px 184.06px,#10100a 185.26px 185.26px,#d40614 186.46px 191.30px,#10100a 192.50px 192.50px,#d40614 193.70px 196.12px,#8bc13c 197.32px 197.33px,#d40614 198.53px 198.54px,#8bc13c 199.74px 199.74px,#10100a 200.94px 203.37px,#d40614 204.57px 206.99px,#10100a 208.19px 208.19px,#8bc13c 209.39px 209.40px,#d40614 210.60px 211.81px,#10100a 213.01px 213.02px,#d40614 214.22px 214.23px,#10100a 215.43px 219.06px,#8bc13c 220.26px 220.26px,#10100a 221.46px 222.68px,#8bc13c 223.88px 223.88px,#10100a 225.08px 227.50px,#8bc13c 228.70px 229.92px,#d40614 231.12px 232.33px,#10100a 233.53px 233.54px,#d40614 234.74px 234.74px,#8bc13c 235.94px 240.78px,#d40614 241.98px 243.19px,#8bc13c 244.39px 244.40px,#d40614 245.60px 245.61px,#8bc13c 246.81px 248.02px,#d40614 249.22px 254.06px,#10100a 255.26px 257.68px,#8bc13c 258.88px 264.92px,#10100a 266.12px 267.33px,#d40614 268.53px 268.54px,#8bc13c 269.74px 270.95px,#d40614 272.15px 273.37px,#8bc13c 274.57px 275.78px,#10100a 276.98px 276.99px,#d40614 278.19px 279.40px,#8bc13c 280.60px 284.23px,#d40614 285.43px 289.06px,#8bc13c 290.26px 290.26px,#10100a 291.46px 292.68px,#8bc13c 293.88px 293.88px,#10100a 295.08px 295.09px,#8bc13c 296.29px 297.50px,#d40614 298.70px 298.71px,#10100a 299.91px 299.92px,#8bc13c 301.12px 302.33px,#10100a 303.53px 304.74px,#d40614 305.94px 305.95px,#8bc13c 307.15px 310.78px,#d40614 311.98px 311.99px,#8bc13c 313.19px 314.40px,#10100a 315.60px 318.02px,#8bc13c 319.22px 320.43px,#10100a 321.63px 322.85px,#8bc13c 324.05px 324.06px,#10100a 325.26px 327.68px,#8bc13c 328.88px 328.88px,#10100a 330.08px 332.50px,#8bc13c 333.70px 334.92px,#d40614 336.12px 336.12px,#8bc13c 337.32px 338.54px,#10100a 339.74px 339.74px,#8bc13c 340.94px 344.57px,#d40614 345.77px 345.78px,#8bc13c 346.98px 350.00px)"></div><div style="left:407.17px;width:12.72px;background:linear-gradient(#8bc13c 0.00px 3.02px,#d40614 4.22px 6.64px,#10100a 7.84px 7.85px,#d40614 9.05px 9.06px,#8bc13c 10.26px 11.47px,#d40614 12.67px 12.68px,#8bc13c 13.88px 15.09px,#10100a 16.29px 16.30px,#8bc13c 17.50px 18.71px,#10100a 19.91px 19.92px,#8bc13c 21.12px 23.54px,#d40614 24.74px 25.95px,#8bc13c 27.15px 27.16px,#d40614 28.36px 28.37px,#8bc13c 29.57px 31.99px,#10100a 33.19px 33.19px,#d40614 34.39px 34.40px,#8bc13c 35.60px 35.61px,#d40614 36.81px 38.02px,#8bc13c 39.22px 40.43px,#d40614 41.63px 42.85px,#8bc13c 44.05px 47.68px,#10100a 48.88px 48.88px,#8bc13c 50.08px 56.12px,#d40614 57.32px 57.33px,#10100a 58.53px 59.74px,#8bc13c 60.94px 65.78px,#d40614 66.98px 66.99px,#8bc13c 68.19px 68.19px,#d40614 69.39px 69.40px,#8bc13c 70.60px 70.61px,#d40614 71.81px 71.81px,#8bc13c 73.01px 74.23px,#10100a 75.43px 75.43px,#d40614 76.63px 76.64px,#8bc13c 77.84px 81.47px,#d40614 82.67px 87.50px,#8bc13c 88.70px 91.12px,#10100a 92.32px 92.33px,#8bc13c 93.53px 93.54px,#d40614 94.74px 94.74px,#8bc13c 95.94px 97.16px,#10100a 98.36px 98.37px,#8bc13c 99.57px 100.78px,#10100a 101.98px 103.19px,#8bc13c 104.39px 105.61px,#10100a 106.81px 108.02px,#8bc13c 109.22px 109.23px,#d40614 110.43px 114.06px,#8bc13c 115.26px 118.88px,#d40614 120.08px 132.16px,#8bc13c 133.36px 133.37px,#d40614 134.57px 135.78px,#10100a 136.98px 136.99px,#d40614 138.19px 149.06px,#8bc13c 150.26px 150.26px,#d40614 151.46px 171.99px,#8bc13c 173.19px 173.19px,#10100a 174.39px 174.40px,#8bc13c 175.60px 178.02px,#d40614 179.22px 184.06px,#8bc13c 185.26px 185.26px,#d40614 186.46px 187.68px,#10100a 188.88px 188.88px,#d40614 190.08px 194.92px,#8bc13c 196.12px 198.54px,#d40614 199.74px 199.74px,#8bc13c 200.94px 200.95px,#d40614 202.15px 209.40px,#8bc13c 210.60px 213.02px,#10100a 214.22px 214.23px,#d40614 215.43px 220.26px,#10100a 221.46px 221.47px,#d40614 222.67px 223.88px,#8bc13c 225.08px 225.09px,#d40614 226.29px 227.50px,#8bc13c 228.70px 231.12px,#10100a 232.32px 232.33px,#d40614 233.53px 233.54px,#10100a 234.74px 235.95px,#d40614 237.15px 243.19px,#8bc13c 244.39px 246.81px,#d40614 248.01px 250.43px,#8bc13c 251.63px 252.85px,#d40614 254.05px 254.06px,#10100a 255.26px 255.26px,#d40614 256.46px 260.09px,#8bc13c 261.29px 276.99px,#10100a 278.19px 279.40px,#d40614 280.60px 280.61px,#8bc13c 281.81px 285.43px,#10100a 286.63px 287.85px,#8bc13c 289.05px 289.06px,#d40614 290.26px 291.47px,#8bc13c 292.67px 293.88px,#d40614 295.08px 295.09px,#8bc13c 296.29px 297.50px,#d40614 298.70px 298.71px,#8bc13c 299.91px 302.33px,#d40614 303.53px 304.74px,#10100a 305.94px 308.37px,#8bc13c 309.57px 316.81px,#d40614 318.01px 318.02px,#8bc13c 319.22px 324.06px,#10100a 325.26px 327.68px,#d40614 328.88px 328.88px,#10100a 330.08px 333.71px,#d40614 334.91px 334.92px,#8bc13c 336.12px 336.12px,#10100a 337.32px 337.33px,#8bc13c 338.53px 338.54px,#10100a 339.74px 342.16px,#8bc13c 343.36px 345.78px,#10100a 346.98px 348.19px,#d40614 349.39px 350.00px)"></div><div style="left:419.87px;width:12.72px;background:linear-gradient(#d40614 0.00px 6.64px,#10100a 7.84px 7.85px,#8bc13c 9.05px 9.06px,#d40614 10.26px 12.68px,#8bc13c 13.88px 19.92px,#10100a 21.12px 21.12px,#8bc13c 22.32px 27.16px,#d40614 28.36px 28.37px,#10100a 29.57px 29.57px,#8bc13c 30.77px 31.99px,#d40614 33.19px 33.19px,#8bc13c 34.39px 38.02px,#10100a 39.22px 39.23px,#8bc13c 40.43px 44.06px,#d40614 45.26px 45.26px,#8bc13c 46.46px 53.71px,#d40614 54.91px 54.92px,#8bc13c 56.12px 56.12px,#10100a 57.32px 57.33px,#8bc13c 58.53px 63.37px,#10100a 64.57px 64.57px,#8bc13c 65.77px 66.99px,#d40614 68.19px 68.19px,#10100a 69.39px 69.40px,#8bc13c 70.60px 75.43px,#d40614 76.63px 76.64px,#8bc13c 77.84px 77.85px,#d40614 79.05px 79.06px,#10100a 80.26px 81.47px,#8bc13c 82.67px 86.30px,#d40614 87.50px 87.50px,#8bc13c 88.70px 91.12px,#10100a 92.32px 92.33px,#8bc13c 93.53px 94.74px,#d40614 95.94px 97.16px,#8bc13c 98.36px 101.99px,#10100a 103.19px 103.19px,#8bc13c 104.39px 108.02px,#d40614 109.22px 114.06px,#8bc13c 115.26px 118.88px,#d40614 120.08px 127.33px,#10100a 128.53px 128.54px,#d40614 129.74px 130.95px,#8bc13c 132.15px 132.16px,#d40614 133.36px 133.37px,#8bc13c 134.57px 134.57px,#d40614 135.77px 149.06px,#8bc13c 150.26px 150.26px,#d40614 151.46px 165.95px,#10100a 167.15px 167.16px,#d40614 168.36px 168.37px,#8bc13c 169.57px 173.19px,#d40614 174.39px 184.06px,#10100a 185.26px 185.26px,#8bc13c 186.46px 188.88px,#10100a 190.08px 190.09px,#8bc13c 191.29px 193.71px,#d40614 194.91px 196.12px,#8bc13c 197.32px 197.33px,#d40614 198.53px 199.74px,#8bc13c 200.94px 200.95px,#d40614 202.15px 203.37px,#8bc13c 204.57px 204.57px,#d40614 205.77px 206.99px,#8bc13c 208.19px 209.40px,#d40614 210.60px 213.02px,#8bc13c 214.22px 214.23px,#10100a 215.43px 215.43px,#8bc13c 216.63px 216.64px,#10100a 217.84px 219.06px,#d40614 220.26px 223.88px,#8bc13c 225.08px 226.30px,#d40614 227.50px 228.71px,#10100a 229.91px 229.92px,#8bc13c 231.12px 232.33px,#d40614 233.53px 234.74px,#8bc13c 235.94px 237.16px,#d40614 238.36px 239.57px,#8bc13c 240.77px 241.99px,#10100a 243.19px 243.19px,#d40614 244.39px 244.40px,#10100a 245.60px 245.61px,#8bc13c 246.81px 246.81px,#10100a 248.01px 249.23px,#8bc13c 250.43px 254.06px,#10100a 255.26px 255.26px,#d40614 256.46px 256.47px,#8bc13c 257.67px 258.88px,#d40614 260.08px 261.30px,#8bc13c 262.50px 264.92px,#d40614 266.12px 268.54px,#10100a 269.74px 273.37px,#d40614 274.57px 274.57px,#8bc13c 275.77px 278.19px,#10100a 279.39px 279.40px,#8bc13c 280.60px 280.61px,#10100a 281.81px 281.81px,#d40614 283.01px 283.02px,#8bc13c 284.22px 290.26px,#10100a 291.46px 292.68px,#8bc13c 293.88px 293.88px,#10100a 295.08px 298.71px,#d40614 299.91px 299.92px,#8bc13c 301.12px 301.12px,#10100a 302.32px 302.33px,#8bc13c 303.53px 305.95px,#10100a 307.15px 307.16px,#d40614 308.36px 308.37px,#10100a 309.57px 310.78px,#d40614 311.98px 311.99px,#10100a 313.19px 313.19px,#8bc13c 314.39px 316.81px,#d40614 318.01px 319.23px,#8bc13c 320.43px 322.85px,#10100a 324.05px 324.06px,#8bc13c 325.26px 326.47px,#d40614 327.67px 327.68px,#10100a 328.88px 328.88px,#d40614 330.08px 330.09px,#10100a 331.29px 334.92px,#8bc13c 336.12px 343.37px,#10100a 344.57px 344.57px,#8bc13c 345.77px 348.19px,#10100a 349.39px 350.00px)"></div><div style="left:432.58px;width:12.72px;background:linear-gradient(#10100a 0.00px 0.61px,#8bc13c 1.81px 5.43px,#d40614 6.63px 6.64px,#8bc13c 7.84px 9.06px,#d40614 10.26px 10.26px,#8bc13c 11.46px 13.88px,#d40614 15.08px 15.09px,#8bc13c 16.29px 16.30px,#d40614 17.50px 18.71px,#8bc13c 19.91px 19.92px,#10100a 21.12px 21.12px,#8bc13c 22.32px 23.54px,#d40614 24.74px 24.74px,#8bc13c 25.94px 27.16px,#d40614 28.36px 28.37px,#8bc13c 29.57px 30.78px,#d40614 31.98px 38.02px,#8bc13c 39.22px 39.23px,#d40614 40.43px 40.43px,#8bc13c 41.63px 45.26px,#10100a 46.46px 46.47px,#d40614 47.67px 48.88px,#8bc13c 50.08px 53.71px,#10100a 54.91px 54.92px,#8bc13c 56.12px 58.54px,#d40614 59.74px 59.74px,#8bc13c 60.94px 60.95px,#d40614 62.15px 62.16px,#8bc13c 63.36px 64.57px,#d40614 65.77px 65.78px,#8bc13c 66.98px 70.61px,#10100a 71.81px 73.02px,#8bc13c 74.22px 74.23px,#d40614 75.43px 75.43px,#8bc13c 76.63px 79.06px,#10100a 80.26px 80.26px,#8bc13c 81.46px 81.47px,#10100a 82.67px 82.68px,#8bc13c 83.88px 87.50px,#d40614 88.70px 88.71px,#8bc13c 89.91px 89.92px,#10100a 91.12px 92.33px,#d40614 93.53px 95.95px,#8bc13c 97.15px 98.37px,#10100a 99.57px 99.57px,#d40614 100.77px 104.40px,#8bc13c 105.60px 109.23px,#d40614 110.43px 112.85px,#10100a 114.05px 115.26px,#8bc13c 116.46px 117.68px,#10100a 118.88px 118.88px,#d40614 120.08px 128.54px,#8bc13c 129.74px 129.74px,#d40614 130.94px 132.16px,#10100a 133.36px 133.37px,#d40614 134.57px 136.99px,#8bc13c 138.19px 138.19px,#d40614 139.39px 140.61px,#8bc13c 141.81px 141.81px,#d40614 143.01px 161.12px,#8bc13c 162.32px 162.33px,#d40614 163.53px 168.37px,#8bc13c 169.57px 169.57px,#10100a 170.77px 170.78px,#d40614 171.98px 173.19px,#8bc13c 174.39px 174.40px,#d40614 175.60px 178.02px,#8bc13c 179.22px 181.64px,#d40614 182.84px 185.26px,#10100a 186.46px 186.47px,#8bc13c 187.67px 187.68px,#d40614 188.88px 196.12px,#10100a 197.32px 197.33px,#8bc13c 198.53px 198.54px,#d40614 199.74px 203.37px,#10100a 204.57px 204.57px,#8bc13c 205.77px 206.99px,#10100a 208.19px 209.40px,#d40614 210.60px 213.02px,#10100a 214.22px 214.23px,#8bc13c 215.43px 219.06px,#d40614 220.26px 222.68px,#10100a 223.88px 226.30px,#d40614 227.50px 228.71px,#8bc13c 229.91px 229.92px,#d40614 231.12px 235.95px,#10100a 237.15px 237.16px,#8bc13c 238.36px 238.37px,#10100a 239.57px 239.57px,#8bc13c 240.77px 240.78px,#d40614 241.98px 241.99px,#10100a 243.19px 243.19px,#d40614 244.39px 248.02px,#8bc13c 249.22px 250.43px,#10100a 251.63px 251.64px,#8bc13c 252.84px 255.26px,#10100a 256.46px 258.88px,#d40614 260.08px 263.71px,#8bc13c 264.91px 268.54px,#d40614 269.74px 269.74px,#10100a 270.94px 270.95px,#8bc13c 272.15px 272.16px,#10100a 273.36px 275.78px,#8bc13c 276.98px 276.99px,#10100a 278.19px 278.19px,#8bc13c 279.39px 284.23px,#d40614 285.43px 285.43px,#8bc13c 286.63px 286.64px,#10100a 287.84px 291.47px,#d40614 292.67px 292.68px,#8bc13c 293.88px 299.92px,#d40614 301.12px 303.54px,#8bc13c 304.74px 309.57px,#d40614 310.77px 315.61px,#10100a 316.81px 322.85px,#d40614 324.05px 324.06px,#10100a 325.26px 326.47px,#8bc13c 327.67px 327.68px,#d40614 328.88px 328.88px,#8bc13c 330.08px 330.09px,#10100a 331.29px 331.30px,#8bc13c 332.50px 333.71px,#10100a 334.91px 337.33px,#d40614 338.53px 338.54px,#10100a 339.74px 344.57px,#8bc13c 345.77px 345.78px,#d40614 346.98px 346.99px,#8bc13c 348.19px 348.19px,#10100a 349.39px 350.00px)"></div><div style="left:445.28px;width:12.72px;background:linear-gradient(#d40614 0.00px 3.02px,#8bc13c 4.22px 6.64px,#d40614 7.84px 9.06px,#8bc13c 10.26px 10.26px,#d40614 11.46px 12.68px,#8bc13c 13.88px 16.30px,#d40614 17.50px 17.50px,#8bc13c 18.70px 18.71px,#10100a 19.91px 19.92px,#8bc13c 21.12px 22.33px,#d40614 23.53px 25.95px,#10100a 27.15px 27.16px,#d40614 28.36px 29.57px,#8bc13c 30.77px 30.78px,#d40614 31.98px 31.99px,#8bc13c 33.19px 33.19px,#d40614 34.39px 34.40px,#8bc13c 35.60px 38.02px,#10100a 39.22px 39.23px,#8bc13c 40.43px 42.85px,#d40614 44.05px 44.06px,#8bc13c 45.26px 53.71px,#10100a 54.91px 54.92px,#8bc13c 56.12px 58.54px,#d40614 59.74px 62.16px,#10100a 63.36px 63.37px,#8bc13c 64.57px 69.40px,#10100a 70.60px 71.81px,#8bc13c 73.01px 74.23px,#10100a 75.43px 76.64px,#8bc13c 77.84px 81.47px,#d40614 82.67px 82.68px,#8bc13c 83.88px 85.09px,#d40614 86.29px 86.30px,#8bc13c 87.50px 92.33px,#d40614 93.53px 93.54px,#8bc13c 94.74px 95.95px,#10100a 97.15px 97.16px,#8bc13c 98.36px 98.37px,#10100a 99.57px 99.57px,#8bc13c 100.77px 100.78px,#d40614 101.98px 103.19px,#8bc13c 104.39px 108.02px,#10100a 109.22px 109.23px,#d40614 110.43px 110.43px,#8bc13c 111.63px 111.64px,#d40614 112.84px 112.85px,#10100a 114.05px 115.26px,#8bc13c 116.46px 116.47px,#d40614 117.67px 130.95px,#8bc13c 132.15px 132.16px,#d40614 133.36px 139.40px,#10100a 140.60px 140.61px,#d40614 141.81px 165.95px,#8bc13c 167.15px 168.37px,#d40614 169.57px 169.57px,#8bc13c 170.77px 170.78px,#d40614 171.98px 173.19px,#10100a 174.39px 174.40px,#d40614 175.60px 182.85px,#8bc13c 184.05px 185.26px,#d40614 186.46px 186.47px,#10100a 187.67px 187.68px,#8bc13c 188.88px 188.88px,#d40614 190.08px 190.09px,#8bc13c 191.29px 191.30px,#d40614 192.50px 192.50px,#8bc13c 193.70px 193.71px,#d40614 194.91px 203.37px,#8bc13c 204.57px 204.57px,#d40614 205.77px 205.78px,#10100a 206.98px 208.19px,#d40614 209.39px 210.61px,#10100a 211.81px 213.02px,#d40614 214.22px 214.23px,#8bc13c 215.43px 216.64px,#d40614 217.84px 226.30px,#10100a 227.50px 228.71px,#8bc13c 229.91px 229.92px,#d40614 231.12px 234.74px,#8bc13c 235.94px 235.95px,#10100a 237.15px 239.57px,#8bc13c 240.77px 240.78px,#d40614 241.98px 243.19px,#10100a 244.39px 245.61px,#8bc13c 246.81px 248.02px,#d40614 249.22px 249.23px,#8bc13c 250.43px 250.43px,#d40614 251.63px 257.68px,#10100a 258.88px 258.88px,#d40614 260.08px 260.09px,#10100a 261.29px 261.30px,#d40614 262.50px 267.33px,#8bc13c 268.53px 270.95px,#10100a 272.15px 272.16px,#8bc13c 273.36px 273.37px,#10100a 274.57px 274.57px,#d40614 275.77px 275.78px,#10100a 276.98px 276.99px,#8bc13c 278.19px 279.40px,#10100a 280.60px 280.61px,#d40614 281.81px 283.02px,#8bc13c 284.22px 285.43px,#d40614 286.63px 287.85px,#8bc13c 289.05px 291.47px,#d40614 292.67px 292.68px,#8bc13c 293.88px 296.30px,#d40614 297.50px 297.50px,#8bc13c 298.70px 299.92px,#10100a 301.12px 302.33px,#8bc13c 303.53px 303.54px,#d40614 304.74px 304.74px,#10100a 305.94px 305.95px,#d40614 307.15px 308.37px,#8bc13c 309.57px 309.57px,#d40614 310.77px 313.19px,#8bc13c 314.39px 316.81px,#10100a 318.01px 319.23px,#8bc13c 320.43px 320.43px,#10100a 321.63px 321.64px,#8bc13c 322.84px 324.06px,#d40614 325.26px 325.26px,#8bc13c 326.46px 327.68px,#10100a 328.88px 332.50px,#8bc13c 333.70px 333.71px,#10100a 334.91px 337.33px,#d40614 338.53px 338.54px,#8bc13c 339.74px 339.74px,#10100a 340.94px 342.16px,#8bc13c 343.36px 346.99px,#10100a 348.19px 348.19px,#d40614 349.39px 350.00px)"></div><div style="left:457.98px;width:12.72px;background:linear-gradient(#d40614 0.00px 5.43px,#8bc13c 6.63px 10.26px,#d40614 11.46px 12.68px,#8bc13c 13.88px 13.88px,#d40614 15.08px 16.30px,#8bc13c 17.50px 18.71px,#10100a 19.91px 19.92px,#d40614 21.12px 21.12px,#8bc13c 22.32px 24.74px,#10100a 25.94px 25.95px,#d40614 27.15px 29.57px,#8bc13c 30.77px 34.40px,#d40614 35.60px 35.61px,#8bc13c 36.81px 38.02px,#d40614 39.22px 41.64px,#8bc13c 42.84px 47.68px,#10100a 48.88px 50.09px,#8bc13c 51.29px 51.30px,#d40614 52.50px 54.92px,#8bc13c 56.12px 62.16px,#d40614 63.36px 64.57px,#8bc13c 65.77px 65.78px,#d40614 66.98px 66.99px,#8bc13c 68.19px 69.40px,#10100a 70.60px 70.61px,#d40614 71.81px 71.81px,#8bc13c 73.01px 75.43px,#10100a 76.63px 76.64px,#8bc13c 77.84px 79.06px,#10100a 80.26px 80.26px,#8bc13c 81.46px 86.30px,#10100a 87.50px 87.50px,#d40614 88.70px 88.71px,#8bc13c 89.91px 89.92px,#d40614 91.12px 91.12px,#10100a 92.32px 94.74px,#8bc13c 95.94px 99.57px,#10100a 100.77px 100.78px,#8bc13c 101.98px 101.99px,#10100a 103.19px 103.19px,#8bc13c 104.39px 104.40px,#d40614 105.60px 105.61px,#10100a 106.81px 106.81px,#d40614 108.01px 109.23px,#8bc13c 110.43px 110.43px,#d40614 111.63px 112.85px,#10100a 114.05px 114.06px,#d40614 115.26px 115.26px,#8bc13c 116.46px 118.88px,#d40614 120.08px 132.16px,#8bc13c 133.36px 133.37px,#d40614 134.57px 134.57px,#8bc13c 135.77px 135.78px,#d40614 136.98px 147.85px,#8bc13c 149.05px 149.06px,#d40614 150.26px 157.50px,#10100a 158.70px 158.71px,#d40614 159.91px 161.12px,#8bc13c 162.32px 162.33px,#d40614 163.53px 168.37px,#8bc13c 169.57px 169.57px,#d40614 170.77px 171.99px,#8bc13c 173.19px 173.19px,#d40614 174.39px 176.81px,#8bc13c 178.01px 178.02px,#10100a 179.22px 179.23px,#d40614 180.43px 181.64px,#10100a 182.84px 182.85px,#d40614 184.05px 184.06px,#8bc13c 185.26px 185.26px,#d40614 186.46px 191.30px,#8bc13c 192.50px 192.50px,#d40614 193.70px 197.33px,#8bc13c 198.53px 198.54px,#d40614 199.74px 199.74px,#10100a 200.94px 203.37px,#8bc13c 204.57px 205.78px,#d40614 206.98px 209.40px,#10100a 210.60px 210.61px,#8bc13c 211.81px 211.81px,#d40614 213.01px 213.02px,#10100a 214.22px 214.23px,#d40614 215.43px 215.43px,#8bc13c 216.63px 217.85px,#d40614 219.05px 219.06px,#10100a 220.26px 220.26px,#8bc13c 221.46px 221.47px,#10100a 222.67px 222.68px,#d40614 223.88px 223.88px,#8bc13c 225.08px 229.92px,#d40614 231.12px 233.54px,#10100a 234.74px 234.74px,#d40614 235.94px 245.61px,#8bc13c 246.81px 246.81px,#d40614 248.01px 249.23px,#8bc13c 250.43px 250.43px,#d40614 251.63px 251.64px,#8bc13c 252.84px 255.26px,#d40614 256.46px 260.09px,#8bc13c 261.29px 262.50px,#d40614 263.70px 266.12px,#10100a 267.32px 267.33px,#d40614 268.53px 269.74px,#10100a 270.94px 270.95px,#8bc13c 272.15px 274.57px,#d40614 275.77px 275.78px,#8bc13c 276.98px 276.99px,#10100a 278.19px 283.02px,#8bc13c 284.22px 287.85px,#10100a 289.05px 290.26px,#d40614 291.46px 293.88px,#8bc13c 295.08px 297.50px,#d40614 298.70px 298.71px,#10100a 299.91px 301.12px,#d40614 302.32px 302.33px,#8bc13c 303.53px 303.54px,#d40614 304.74px 305.95px,#10100a 307.15px 308.37px,#8bc13c 309.57px 309.57px,#10100a 310.77px 310.78px,#8bc13c 311.98px 313.19px,#d40614 314.39px 314.40px,#8bc13c 315.60px 320.43px,#10100a 321.63px 322.85px,#8bc13c 324.05px 327.68px,#d40614 328.88px 330.09px,#10100a 331.29px 331.30px,#8bc13c 332.50px 333.71px,#10100a 334.91px 334.92px,#8bc13c 336.12px 336.12px,#10100a 337.32px 337.33px,#8bc13c 338.53px 338.54px,#10100a 339.74px 339.74px,#8bc13c 340.94px 343.37px,#10100a 344.57px 350.00px)"></div><div style="left:470.69px;width:12.72px;background:linear-gradient(#8bc13c 0.00px 5.43px,#d40614 6.63px 6.64px,#8bc13c 7.84px 7.85px,#10100a 9.05px 9.06px,#d40614 10.26px 11.47px,#8bc13c 12.67px 13.88px,#d40614 15.08px 15.09px,#8bc13c 16.29px 18.71px,#d40614 19.91px 19.92px,#8bc13c 21.12px 21.12px,#d40614 22.32px 24.74px,#8bc13c 25.94px 25.95px,#d40614 27.15px 28.37px,#10100a 29.57px 29.57px,#8bc13c 30.77px 31.99px,#d40614 33.19px 33.19px,#8bc13c 34.39px 36.81px,#10100a 38.01px 38.02px,#d40614 39.22px 40.43px,#8bc13c 41.63px 42.85px,#10100a 44.05px 44.06px,#8bc13c 45.26px 48.88px,#d40614 50.08px 52.50px,#8bc13c 53.70px 53.71px,#d40614 54.91px 57.33px,#10100a 58.53px 58.54px,#8bc13c 59.74px 64.57px,#10100a 65.77px 65.78px,#8bc13c 66.98px 66.99px,#10100a 68.19px 68.19px,#d40614 69.39px 69.40px,#10100a 70.60px 70.61px,#d40614 71.81px 71.81px,#8bc13c 73.01px 73.02px,#d40614 74.22px 74.23px,#8bc13c 75.43px 82.68px,#d40614 83.88px 85.09px,#8bc13c 86.29px 94.74px,#10100a 95.94px 95.95px,#8bc13c 97.15px 97.16px,#d40614 98.36px 98.37px,#10100a 99.57px 101.99px,#d40614 103.19px 104.40px,#8bc13c 105.60px 105.61px,#d40614 106.81px 108.02px,#10100a 109.22px 109.23px,#8bc13c 110.43px 110.43px,#d40614 111.63px 112.85px,#10100a 114.05px 114.06px,#8bc13c 115.26px 116.47px,#10100a 117.67px 117.68px,#d40614 118.88px 136.99px,#10100a 138.19px 138.19px,#d40614 139.39px 149.06px,#8bc13c 150.26px 150.26px,#10100a 151.46px 151.47px,#d40614 152.67px 156.30px,#10100a 157.50px 157.50px,#d40614 158.70px 163.54px,#8bc13c 164.74px 164.74px,#d40614 165.94px 168.37px,#8bc13c 169.57px 169.57px,#d40614 170.77px 171.99px,#10100a 173.19px 173.19px,#d40614 174.39px 178.02px,#8bc13c 179.22px 179.23px,#d40614 180.43px 185.26px,#8bc13c 186.46px 192.50px,#d40614 193.70px 196.12px,#8bc13c 197.32px 197.33px,#10100a 198.53px 198.54px,#d40614 199.74px 199.74px,#10100a 200.94px 200.95px,#d40614 202.15px 204.57px,#8bc13c 205.77px 206.99px,#d40614 208.19px 211.81px,#10100a 213.01px 213.02px,#8bc13c 214.22px 214.23px,#d40614 215.43px 221.47px,#10100a 222.67px 222.68px,#d40614 223.88px 228.71px,#8bc13c 229.91px 229.92px,#d40614 231.12px 232.33px,#10100a 233.53px 233.54px,#8bc13c 234.74px 234.74px,#d40614 235.94px 237.16px,#8bc13c 238.36px 240.78px,#d40614 241.98px 244.40px,#8bc13c 245.60px 246.81px,#d40614 248.01px 248.02px,#8bc13c 249.22px 249.23px,#10100a 250.43px 251.64px,#d40614 252.84px 260.09px,#8bc13c 261.29px 262.50px,#d40614 263.70px 263.71px,#8bc13c 264.91px 266.12px,#d40614 267.32px 267.33px,#8bc13c 268.53px 270.95px,#10100a 272.15px 274.57px,#8bc13c 275.77px 275.78px,#10100a 276.98px 278.19px,#d40614 279.39px 279.40px,#8bc13c 280.60px 280.61px,#10100a 281.81px 285.43px,#8bc13c 286.63px 287.85px,#10100a 289.05px 289.06px,#8bc13c 290.26px 290.26px,#10100a 291.46px 292.68px,#8bc13c 293.88px 295.09px,#10100a 296.29px 296.30px,#8bc13c 297.50px 297.50px,#10100a 298.70px 298.71px,#d40614 299.91px 301.12px,#8bc13c 302.32px 303.54px,#d40614 304.74px 304.74px,#8bc13c 305.94px 309.57px,#10100a 310.77px 311.99px,#8bc13c 313.19px 314.40px,#10100a 315.60px 315.61px,#8bc13c 316.81px 316.81px,#10100a 318.01px 324.06px,#d40614 325.26px 325.26px,#8bc13c 326.46px 327.68px,#10100a 328.88px 333.71px,#d40614 334.91px 334.92px,#8bc13c 336.12px 337.33px,#10100a 338.53px 340.95px,#8bc13c 342.15px 342.16px,#10100a 343.36px 345.78px,#8bc13c 346.98px 346.99px,#10100a 348.19px 348.19px,#d40614 349.39px 350.00px)"></div><div style="left:483.39px;width:12.72px;background:linear-gradient(#d40614 0.00px 1.81px,#8bc13c 3.01px 3.02px,#d40614 4.22px 4.23px,#8bc13c 5.43px 6.64px,#d40614 7.84px 9.06px,#8bc13c 10.26px 11.47px,#d40614 12.67px 18.71px,#10100a 19.91px 19.92px,#8bc13c 21.12px 25.95px,#d40614 27.15px 28.37px,#10100a 29.57px 29.57px,#8bc13c 30.77px 31.99px,#d40614 33.19px 35.61px,#8bc13c 36.81px 39.23px,#10100a 40.43px 40.43px,#8bc13c 41.63px 42.85px,#d40614 44.05px 44.06px,#8bc13c 45.26px 52.50px,#10100a 53.70px 53.71px,#d40614 54.91px 58.54px,#8bc13c 59.74px 60.95px,#d40614 62.15px 63.37px,#8bc13c 64.57px 65.78px,#10100a 66.98px 66.99px,#8bc13c 68.19px 69.40px,#10100a 70.60px 70.61px,#8bc13c 71.81px 77.85px,#d40614 79.05px 79.06px,#8bc13c 80.26px 81.47px,#d40614 82.67px 83.88px,#8bc13c 85.08px 85.09px,#10100a 86.29px 86.30px,#8bc13c 87.50px 93.54px,#10100a 94.74px 95.95px,#8bc13c 97.15px 98.37px,#d40614 99.57px 99.57px,#8bc13c 100.77px 100.78px,#10100a 101.98px 101.99px,#8bc13c 103.19px 103.19px,#10100a 104.39px 108.02px,#d40614 109.22px 111.64px,#10100a 112.84px 112.85px,#d40614 114.05px 114.06px,#8bc13c 115.26px 115.26px,#10100a 116.46px 116.47px,#d40614 117.67px 129.74px,#8bc13c 130.94px 130.95px,#d40614 132.15px 161.12px,#10100a 162.32px 162.33px,#d40614 163.53px 163.54px,#8bc13c 164.74px 164.74px,#d40614 165.94px 165.95px,#8bc13c 167.15px 167.16px,#d40614 168.36px 171.99px,#8bc13c 173.19px 174.40px,#d40614 175.60px 175.61px,#8bc13c 176.81px 176.81px,#d40614 178.01px 181.64px,#8bc13c 182.84px 185.26px,#d40614 186.46px 186.47px,#10100a 187.67px 187.68px,#d40614 188.88px 192.50px,#8bc13c 193.70px 196.12px,#d40614 197.32px 197.33px,#10100a 198.53px 198.54px,#8bc13c 199.74px 199.74px,#d40614 200.94px 203.37px,#8bc13c 204.57px 204.57px,#d40614 205.77px 209.40px,#8bc13c 210.60px 210.61px,#d40614 211.81px 211.81px,#8bc13c 213.01px 214.23px,#10100a 215.43px 217.85px,#8bc13c 219.05px 223.88px,#d40614 225.08px 225.09px,#10100a 226.29px 226.30px,#d40614 227.50px 227.50px,#10100a 228.70px 228.71px,#8bc13c 229.91px 229.92px,#d40614 231.12px 231.12px,#8bc13c 232.32px 232.33px,#d40614 233.53px 239.57px,#10100a 240.77px 240.78px,#8bc13c 241.98px 244.40px,#10100a 245.60px 245.61px,#8bc13c 246.81px 248.02px,#d40614 249.22px 250.43px,#10100a 251.63px 251.64px,#8bc13c 252.84px 252.85px,#10100a 254.05px 254.06px,#d40614 255.26px 255.26px,#10100a 256.46px 256.47px,#d40614 257.67px 268.54px,#8bc13c 269.74px 269.74px,#d40614 270.94px 270.95px,#8bc13c 272.15px 272.16px,#10100a 273.36px 274.57px,#8bc13c 275.77px 275.78px,#10100a 276.98px 276.99px,#8bc13c 278.19px 278.19px,#10100a 279.39px 279.40px,#d40614 280.60px 280.61px,#10100a 281.81px 283.02px,#8bc13c 284.22px 287.85px,#10100a 289.05px 289.06px,#8bc13c 290.26px 290.26px,#10100a 291.46px 291.47px,#d40614 292.67px 293.88px,#8bc13c 295.08px 304.74px,#10100a 305.94px 308.37px,#8bc13c 309.57px 309.57px,#10100a 310.77px 313.19px,#8bc13c 314.39px 315.61px,#10100a 316.81px 318.02px,#d40614 319.22px 319.23px,#8bc13c 320.43px 320.43px,#10100a 321.63px 321.64px,#8bc13c 322.84px 322.85px,#10100a 324.05px 325.26px,#d40614 326.46px 326.47px,#8bc13c 327.67px 328.88px,#10100a 330.08px 330.09px,#8bc13c 331.29px 331.30px,#10100a 332.50px 332.50px,#8bc13c 333.70px 333.71px,#10100a 334.91px 338.54px,#8bc13c 339.74px 339.74px,#10100a 340.94px 343.37px,#8bc13c 344.57px 345.78px,#10100a 346.98px 348.19px,#d40614 349.39px 350.00px)"></div><div style="left:496.10px;width:12.72px;background:linear-gradient(#8bc13c 0.00px 1.81px,#d40614 3.01px 3.02px,#8bc13c 4.22px 4.23px,#d40614 5.43px 5.43px,#8bc13c 6.63px 6.64px,#d40614 7.84px 7.85px,#8bc13c 9.05px 13.88px,#10100a 15.08px 15.09px,#d40614 16.29px 18.71px,#8bc13c 19.91px 19.92px,#d40614 21.12px 23.54px,#8bc13c 24.74px 24.74px,#10100a 25.94px 25.95px,#8bc13c 27.15px 28.37px,#d40614 29.57px 29.57px,#8bc13c 30.77px 34.40px,#d40614 35.60px 35.61px,#8bc13c 36.81px 36.81px,#d40614 38.01px 40.43px,#8bc13c 41.63px 41.64px,#d40614 42.84px 44.06px,#10100a 45.26px 45.26px,#8bc13c 46.46px 48.88px,#10100a 50.08px 50.09px,#8bc13c 51.29px 56.12px,#d40614 57.32px 57.33px,#8bc13c 58.53px 63.37px,#d40614 64.57px 64.57px,#8bc13c 65.77px 77.85px,#d40614 79.05px 79.06px,#10100a 80.26px 80.26px,#8bc13c 81.46px 86.30px,#d40614 87.50px 87.50px,#8bc13c 88.70px 89.92px,#10100a 91.12px 92.33px,#8bc13c 93.53px 98.37px,#d40614 99.57px 100.78px,#10100a 101.98px 103.19px,#d40614 104.39px 104.40px,#8bc13c 105.60px 108.02px,#d40614 109.22px 109.23px,#10100a 110.43px 110.43px,#8bc13c 111.63px 112.85px,#d40614 114.05px 114.06px,#10100a 115.26px 115.26px,#d40614 116.46px 117.68px,#10100a 118.88px 118.88px,#d40614 120.08px 135.78px,#8bc13c 136.98px 136.99px,#d40614 138.19px 138.19px,#10100a 139.39px 139.40px,#d40614 140.60px 144.23px,#8bc13c 145.43px 145.43px,#d40614 146.63px 165.95px,#8bc13c 167.15px 168.37px,#10100a 169.57px 169.57px,#d40614 170.77px 171.99px,#8bc13c 173.19px 173.19px,#10100a 174.39px 174.40px,#d40614 175.60px 179.23px,#8bc13c 180.43px 181.64px,#d40614 182.84px 188.88px,#10100a 190.08px 190.09px,#8bc13c 191.29px 191.30px,#d40614 192.50px 192.50px,#8bc13c 193.70px 193.71px,#d40614 194.91px 196.12px,#8bc13c 197.32px 197.33px,#d40614 198.53px 199.74px,#10100a 200.94px 200.95px,#8bc13c 202.15px 203.37px,#10100a 204.57px 205.78px,#d40614 206.98px 206.99px,#10100a 208.19px 209.40px,#d40614 210.60px 210.61px,#10100a 211.81px 213.02px,#8bc13c 214.22px 214.23px,#10100a 215.43px 215.43px,#d40614 216.63px 216.64px,#10100a 217.84px 217.85px,#d40614 219.05px 223.88px,#8bc13c 225.08px 225.09px,#d40614 226.29px 232.33px,#10100a 233.53px 233.54px,#d40614 234.74px 241.99px,#8bc13c 243.19px 244.40px,#d40614 245.60px 256.47px,#10100a 257.67px 257.68px,#8bc13c 258.88px 258.88px,#d40614 260.08px 260.09px,#8bc13c 261.29px 261.30px,#d40614 262.50px 269.74px,#8bc13c 270.94px 270.95px,#10100a 272.15px 279.40px,#8bc13c 280.60px 285.43px,#10100a 286.63px 286.64px,#8bc13c 287.84px 287.85px,#d40614 289.05px 292.68px,#10100a 293.88px 295.09px,#8bc13c 296.29px 296.30px,#10100a 297.50px 299.92px,#8bc13c 301.12px 304.74px,#10100a 305.94px 305.95px,#8bc13c 307.15px 308.37px,#d40614 309.57px 309.57px,#10100a 310.77px 313.19px,#d40614 314.39px 314.40px,#8bc13c 315.60px 315.61px,#10100a 316.81px 316.81px,#8bc13c 318.01px 318.02px,#10100a 319.22px 319.23px,#8bc13c 320.43px 322.85px,#d40614 324.05px 324.06px,#10100a 325.26px 325.26px,#d40614 326.46px 326.47px,#10100a 327.67px 327.68px,#d40614 328.88px 328.88px,#8bc13c 330.08px 331.30px,#10100a 332.50px 338.54px,#d40614 339.74px 339.74px,#8bc13c 340.94px 340.95px,#d40614 342.15px 342.16px,#10100a 343.36px 343.37px,#8bc13c 344.57px 344.57px,#10100a 345.77px 346.99px,#8bc13c 348.19px 348.19px,#10100a 349.39px 350.00px)"></div></div>
</body></html>
